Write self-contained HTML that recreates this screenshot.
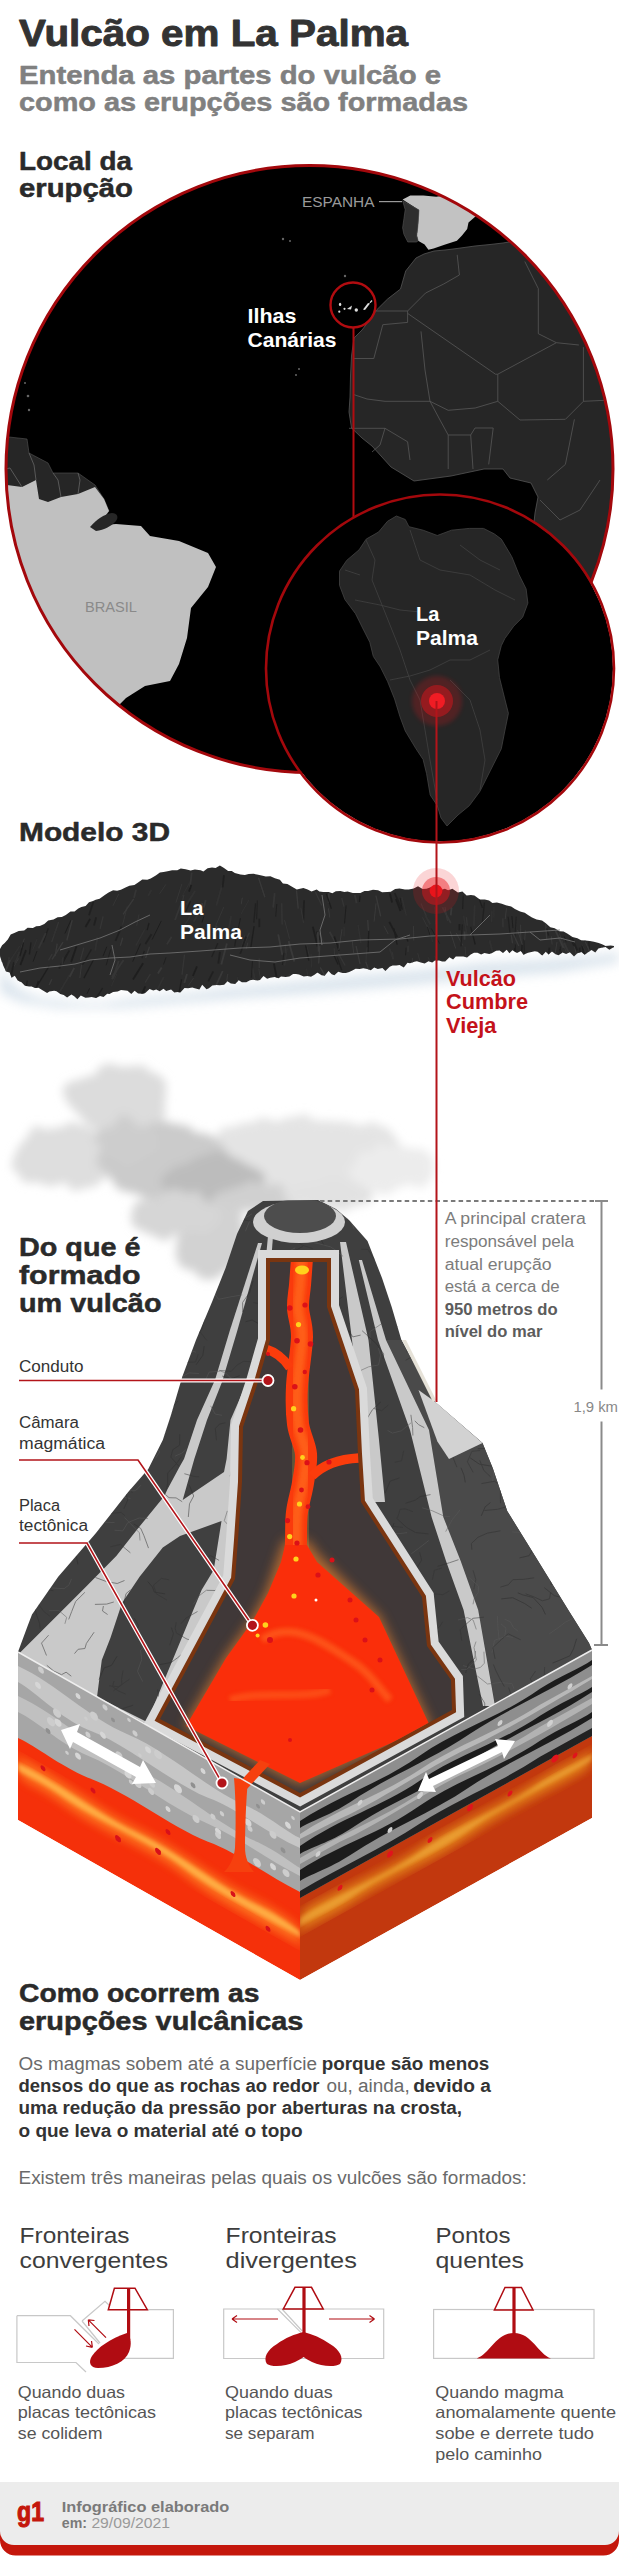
<!DOCTYPE html>
<html><head><meta charset="utf-8"><title>Vulcão em La Palma</title>
<style>
html,body{margin:0;padding:0;background:#fff;width:619px;height:2560px;overflow:hidden}
svg{display:block;position:absolute;left:0;top:0}
text{font-family:"Liberation Sans",sans-serif}
.b{font-weight:bold}
.h{stroke-width:.9;stroke-linejoin:round}
.h2{stroke-width:.5;stroke-linejoin:round}
</style></head><body>
<svg width="619" height="2560" viewBox="0 0 619 2560">
<defs>
 <clipPath id="bigc"><circle cx="309.5" cy="469" r="303.5"/></clipPath>
 <clipPath id="smc"><circle cx="440" cy="668.5" r="173"/></clipPath>
 <clipPath id="conec"><rect x="0" y="1200.5" width="619" height="100"/></clipPath>
 <filter id="blur2"><feGaussianBlur stdDeviation="2"/></filter>
 <filter id="blur6" x="-20%" y="-20%" width="140%" height="140%"><feGaussianBlur stdDeviation="6"/></filter>
 <filter id="blur8" x="-30%" y="-30%" width="160%" height="160%"><feTurbulence type="fractalNoise" baseFrequency="0.035" numOctaves="3" seed="4" result="n"/><feDisplacementMap in="SourceGraphic" in2="n" scale="22" xChannelSelector="R" yChannelSelector="G" result="d"/><feGaussianBlur in="d" stdDeviation="5"/></filter>
 <filter id="blur12" x="-30%" y="-30%" width="160%" height="160%"><feGaussianBlur stdDeviation="12"/></filter>
 <radialGradient id="glow"><stop offset="0" stop-color="#e8141b" stop-opacity=".9"/><stop offset="1" stop-color="#e8141b" stop-opacity="0"/></radialGradient>
</defs>

<!-- HEADER -->
<text x="19" y="45.5" class="b h" stroke="#333" font-size="36.5" fill="#333" textLength="389" lengthAdjust="spacingAndGlyphs">Vulcão em La Palma</text>
<text x="19" y="83.5" class="b h2" stroke="#808080" font-size="25.5" fill="#808080" textLength="422" lengthAdjust="spacingAndGlyphs">Entenda as partes do vulcão e</text>
<text x="19" y="111.4" class="b h2" stroke="#808080" font-size="25.5" fill="#808080" textLength="449" lengthAdjust="spacingAndGlyphs">como as erupções são formadas</text>

<text x="19" y="170" class="b h2" stroke="#2a2a2a" font-size="26" fill="#2a2a2a" textLength="113" lengthAdjust="spacingAndGlyphs">Local da</text>
<text x="19" y="197" class="b h2" stroke="#2a2a2a" font-size="26" fill="#2a2a2a" textLength="114" lengthAdjust="spacingAndGlyphs">erupção</text>

<!-- MAP BIG CIRCLE -->
<circle cx="309.5" cy="469" r="303.5" fill="#000"/>
<g clip-path="url(#bigc)">
 <!-- Africa -->
 <polygon fill="#262626" stroke="#555" stroke-width=".8" points="424,254 434,251 445,250 457,248.5 475,246 490,244.5 503,243 515,241 530,240 560,236 650,236 650,700 560,700 540,600 530,560 535,513 538,497 531,483 510,478 503,469 484,469 451,476 414,481 391,467 372,446 362,438 351.5,428 349,412 350,397 350.5,376 351.5,356 354,338 362,330 369.6,320 377,309.5 387.6,299 400.5,289 405.7,271 416,258"/>
 <g fill="none" stroke="#585858" stroke-width=".8">
  <polyline points="457.2,254.8 459.4,275 443.7,284 425.6,293 407.6,311"/>
  <polyline points="376,311 407.6,311 407.6,322.4 382.8,324.7 373.8,358.5 353.5,358.5"/>
  <polyline points="407.6,313.4 495.5,374.2 497.8,374.2 556.4,342.7 578.9,345"/>
  <polyline points="421,331.4 425,370 430,401.3"/>
  <polyline points="524.8,261.5 538.3,288.6 538.3,333.7 556.4,342.7"/>
  <polyline points="497.8,374.2 497.8,401.3 475.2,408 448.2,410.3 430,401.3 385,401.3 367,399"/>
  <polyline points="353.5,394.5 367,399"/>
  <polyline points="349,428.3 385,428.3 407.6,441.8 410,460"/>
  <polyline points="448.2,435 448.2,469"/>
  <polyline points="470.7,435 473,469"/>
  <polyline points="475,428 493.2,428 488.7,464.4"/>
  <polyline points="430,401.3 440,420 448.2,435 470.7,435 475,428"/>
  <polyline points="574.4,419.3 565.4,464.4 547.3,480"/>
  <polyline points="583.4,347.2 583.4,401.3 565.4,419.3 520,420 497.8,401.3"/>
  <polyline points="583.4,401.3 612,400"/>
  <polyline points="540,500 560,520 580,510 600,480"/>
  <polyline points="385,428.3 380,445 372,452"/>
 </g>
 <!-- Iberia -->
 <polygon fill="#c2c2c2" points="402.6,199.4 410.3,195.5 423.3,195.5 436.2,196.8 441.4,196 460,190 480,200 476,216 468.5,222.6 467.2,229.1 462,235.6 456.9,240.7 445.2,244.6 433.6,248.5 428.4,249.8 424.6,244.6 418.1,240.7 416.8,235.6 418,225 419,210"/>
 <polygon fill="#2e2e2e" stroke="#555" stroke-width=".6" points="402.6,200.7 419,210 418,225 416.8,235.6 418.1,240.7 416.8,242 407.8,242 403.9,234.3 402.6,227.8 403.9,218.8 405.2,209.7"/>
 <!-- South America dark north -->
 <polygon fill="#262626" stroke="#555" stroke-width=".6" points="0,436 27,439 29,453 48,463 53,473 78,473 95,485 104,499 109,511 99,524 92,526 80,520 0,520"/>
 <!-- Brazil -->
 <polygon fill="#c0c0c0" points="0,485 7,485 22,487 36,480 39,499 48,502 61,497 78,494 95,487 104,499 109,511 99,524 92,526 116,524 141,526 150,536 179,541 208,553 216,567 208,587 191,608 187,638 179,664 170,681 145,686 126,698 119,705 100,760 0,760"/>
 <path d="M90,527 C96,520 104,514 112,513 C117,513 119,517 116,521 C112,526 104,530 96,531Z" fill="#262626"/>
 <g fill="none" stroke="#666" stroke-width=".8"><polyline points="36,480 34,465 29,453"/><polyline points="61,497 58,480 53,473"/><polyline points="78,494 80,480 78,473"/><polyline points="0,470 10,468 22,487"/></g>
 <!-- small islands -->
 <g fill="#666"><circle cx="283" cy="239" r="1.2"/><circle cx="290" cy="241" r="1"/><circle cx="345" cy="276" r="1.2"/><circle cx="299" cy="369" r="1"/><circle cx="296" cy="375" r="1"/><circle cx="25" cy="383" r="1"/><circle cx="28" cy="396" r="1.3"/><circle cx="29" cy="410" r="1.2"/></g>
</g>
<circle cx="309.5" cy="469" r="303.5" fill="none" stroke="#a3080c" stroke-width="3"/>
<text x="302" y="206.8" font-size="15.5" fill="#9a9a9a" textLength="72.5" lengthAdjust="spacingAndGlyphs">ESPANHA</text>
<line x1="379" y1="201.6" x2="402" y2="201.6" stroke="#9a9a9a" stroke-width="1.2"/>
<text x="85" y="612" font-size="15.5" fill="#8a8a8a" textLength="52" lengthAdjust="spacingAndGlyphs">BRASIL</text>
<!-- Canarias -->
<circle cx="353" cy="305" r="22.5" fill="none" stroke="#b10c10" stroke-width="2.4"/>
<g fill="#ddd"><ellipse cx="340.1" cy="304.4" rx="1.2" ry="1.6"/><circle cx="339.3" cy="311.7" r="1.1"/><circle cx="344.5" cy="308.8" r="1.1"/><path d="M347,309 L352,305.5 L351,309.5Z"/><circle cx="356.3" cy="310" r="1.7"/><path d="M363,309.5 L368,303 L370,303.5 L365,310Z"/><path d="M369.5,302.5 L371.5,300 L372.5,301 L370.5,303Z"/></g>
<line x1="353.5" y1="327" x2="353.5" y2="518" stroke="#b10c10" stroke-width="2"/>
<text x="247.5" y="322.5" class="b" font-size="20.5" fill="#fff" textLength="49" lengthAdjust="spacingAndGlyphs">Ilhas</text>
<text x="247.5" y="347" class="b" font-size="20.5" fill="#fff" textLength="89" lengthAdjust="spacingAndGlyphs">Canárias</text>

<!-- SMALL CIRCLE La Palma -->
<circle cx="440" cy="668.5" r="173" fill="#000"/>
<g clip-path="url(#smc)">
 <polygon fill="#262626" stroke="#444" stroke-width=".8" points="396.4,516 405.3,519.5 408.9,526.7 423.1,530.2 437.3,535.5 451.5,530.2 469.3,528.4 483.5,528.4 494.2,533.8 501.3,539.1 511.9,556.9 519,574.6 526.1,588.9 527.9,603.1 522.6,617.3 513.7,626.2 504.8,638.6 501.3,645.7 497.7,659.9 499.5,677.7 504.8,699 508.4,713.3 504.8,731 501.3,748.8 490.6,770.1 479.9,791.4 469.3,805.7 458,815 447,826 441,818 437.3,805.7 430.2,795 426.6,773.7 423.1,759.5 416,748.8 405.3,731 400,716.8 394.6,699 387.5,681.3 380.4,667 373.3,656.4 369.8,642.2 362.6,628 355.5,613.7 344.9,599.5 339.5,585.3 339.5,571.1 346.7,560.4 359.1,549.8 366.2,539.1 378.6,532 387.5,521.3"/>
 <g fill="none" stroke="#3e3e3e" stroke-width=".9">
  <polyline points="366,540 375,560 372,580 380,600 390,625 400,650 410,680 420,700 425,730 430,760 437,800"/>
  <polyline points="410,530 420,560 440,570 470,575 495,590 515,600"/>
  <polyline points="355,600 380,605 400,610 420,612"/>
  <polyline points="390,680 410,676 430,670 450,660 470,660 490,650"/>
  <polyline points="450,680 470,700 480,730 485,760 480,790"/>
  <polyline points="460,545 480,560 500,570"/>
  <polyline points="345,570 360,575"/>
 </g>
</g>
<circle cx="440" cy="668.5" r="174" fill="none" stroke="#a3080c" stroke-width="2.6"/>
<text x="416" y="620.8" class="b" font-size="20" fill="#fff">La</text>
<text x="416" y="645" class="b" font-size="20" fill="#fff" textLength="62" lengthAdjust="spacingAndGlyphs">Palma</text>
<circle cx="437" cy="701" r="25" fill="#e8141b" opacity=".22" filter="url(#blur2)"/>
<circle cx="437" cy="701" r="16" fill="#e8141b" opacity=".45"/>
<circle cx="437" cy="701" r="8" fill="#f01c24"/>

<!-- MODELO 3D -->
<text x="19" y="841" class="b h2" stroke="#2a2a2a" font-size="26" fill="#2a2a2a" textLength="151" lengthAdjust="spacingAndGlyphs">Modelo 3D</text>
<!-- shadow -->
<polygon fill="#d3dfe9" filter="url(#blur6)" opacity=".85" points="0,955 5,975 20,990 40,998 75,1002 100,1003 135,998 165,995 190,993 225,988 260,985 310,980 360,975 420,970 480,963 540,960 600,955 619,952 619,962 560,972 480,978 420,984 350,990 300,994 240,998 180,1003 120,1008 60,1008 20,1002 0,992"/>
<!-- island -->
<polygon fill="#2b2b2b" points="0.0,949.0 2.1,945.2 4.7,943.0 7.8,939.4 10.7,934.6 14.9,932.8 18.7,931.1 24.2,930.5 27.6,927.8 32.9,927.9 36.2,926.2 39.8,926.0 44.3,924.1 48.2,920.4 53.5,919.4 57.6,917.2 61.8,916.9 65.8,914.9 70.5,911.6 74.5,911.6 78.3,908.4 81.4,906.9 85.6,905.9 89.0,902.2 93.0,901.1 95.7,899.7 99.6,898.7 104.8,895.1 108.6,892.5 113.1,890.3 117.1,890.8 120.9,889.7 125.5,887.6 129.4,885.8 134.4,885.1 138.1,882.4 142.3,879.6 147.3,879.7 150.7,878.5 155.8,875.4 159.9,872.5 163.6,872.1 168.8,870.9 172.1,870.3 177.3,870.3 180.8,868.5 185.6,869.2 190.6,870.6 194.9,869.4 200.6,870.2 203.4,871.4 207.6,868.2 212.0,867.6 215.6,868.0 219.9,865.4 224.0,867.9 228.1,871.1 231.8,871.1 234.8,873.0 240.4,874.4 244.9,874.9 248.7,874.1 253.5,873.8 257.0,874.4 261.6,875.5 265.8,876.6 270.4,876.2 274.9,878.3 279.9,879.8 282.9,883.5 287.4,884.1 291.2,886.2 296.8,889.5 300.0,888.8 303.4,888.1 307.6,889.4 311.5,891.5 316.7,889.4 319.4,891.6 323.2,892.1 328.8,892.1 332.3,893.2 335.8,891.2 340.4,890.9 344.4,892.1 347.6,891.5 352.8,893.0 356.5,893.1 360.4,893.0 364.5,890.9 368.1,891.0 373.0,889.7 378.1,890.2 382.1,892.2 387.4,891.9 390.8,891.7 395.1,889.1 399.5,888.5 405.0,889.4 408.8,889.6 413.7,888.6 418.0,886.3 422.6,889.1 426.5,888.8 431.4,887.1 435.9,887.8 439.6,890.2 444.9,888.8 448.1,890.3 452.4,888.8 457.9,892.6 462.4,891.6 466.6,895.6 470.9,894.9 474.4,895.5 479.9,899.6 484.8,899.5 489.1,900.5 492.4,903.1 496.9,902.6 501.8,903.8 505.9,905.2 511.2,906.6 514.9,909.0 520.1,911.5 524.7,912.7 528.4,915.3 532.0,917.6 536.6,919.6 542.0,920.4 545.8,923.2 550.3,927.2 554.7,928.2 559.5,931.2 563.6,931.5 567.6,933.7 572.5,937.1 577.4,938.2 581.1,940.3 585.4,940.4 589.9,941.0 593.9,941.8 598.7,942.9 602.6,944.4 605.6,945.9 610.7,945.4 614.0,946.0 614.0,947.0 609.3,949.8 605.7,947.0 601.3,947.8 598.4,948.4 595.3,952.6 591.5,949.9 587.0,953.1 584.8,954.8 581.3,952.0 577.0,953.5 574.0,956.5 569.8,952.2 566.1,954.1 562.5,952.4 558.5,955.2 555.6,954.3 551.9,951.5 548.6,954.6 545.8,951.7 542.3,955.5 537.6,951.7 534.8,951.2 530.3,952.2 528.0,952.8 523.4,954.7 520.9,951.0 517.0,953.0 512.4,950.3 509.4,953.2 506.7,949.8 503.0,953.0 499.6,950.5 496.1,950.8 491.7,953.2 489.2,954.0 484.4,952.9 481.1,954.6 477.5,952.8 474.0,952.8 470.7,954.5 467.1,957.4 463.3,956.6 459.4,956.4 455.8,956.4 453.1,959.5 449.4,957.2 445.2,961.6 442.1,961.6 439.1,960.4 435.0,960.4 432.3,962.5 428.5,961.2 424.7,963.6 420.8,962.5 416.9,961.2 414.4,961.8 410.0,963.2 407.5,962.8 403.8,967.4 399.6,964.9 396.3,965.6 392.6,965.6 389.7,966.8 385.4,971.1 382.4,968.0 377.8,969.0 374.2,967.6 370.8,970.3 367.2,969.0 363.2,968.2 359.8,968.9 355.6,968.8 352.4,970.4 349.2,972.0 345.9,973.1 342.6,973.1 338.2,971.8 334.4,975.2 331.7,974.2 328.5,971.0 324.7,975.8 321.5,975.3 317.5,972.6 314.5,974.8 311.0,976.7 307.6,975.9 303.7,976.6 299.0,974.4 296.0,974.0 293.1,974.0 289.2,976.6 285.7,977.1 281.0,976.5 278.6,978.2 274.7,976.9 270.3,977.8 267.1,978.8 263.5,975.9 259.9,979.9 257.6,980.5 253.1,979.8 250.0,980.3 246.3,982.3 241.9,982.2 238.7,980.2 235.2,983.9 230.8,983.4 227.4,981.2 224.2,984.8 219.7,985.3 216.4,985.1 212.3,985.4 208.9,988.2 206.5,989.2 202.2,984.8 199.4,989.6 194.7,988.3 192.3,987.6 188.1,988.2 184.5,988.1 180.4,992.5 177.5,992.0 174.3,992.6 171.1,989.4 166.2,991.0 163.5,988.7 159.7,991.2 156.2,989.6 153.3,990.5 149.6,988.9 145.0,993.3 142.3,993.7 138.1,993.6 134.6,990.8 131.3,994.1 127.5,990.8 123.3,990.3 121.0,990.0 117.7,991.6 113.1,991.9 109.5,993.9 107.2,993.8 103.5,997.0 100.1,996.0 95.9,997.9 91.6,997.0 88.6,997.4 85.4,997.7 80.8,995.6 77.4,999.2 74.2,996.2 71.4,994.6 67.1,997.5 63.7,995.1 60.3,994.0 56.5,991.3 54.1,990.8 49.4,991.6 47.1,993.0 42.1,989.9 38.5,987.8 34.9,987.9 31.6,986.6 29.1,986.6 24.9,985.8 21.5,982.3 17.7,980.4 14.8,975.8 11.6,977.7 9.6,972.4 6.0,971.4 3.2,965.4 2.3,962.5 1.8,961.9 0.0,956.0"/>
<clipPath id="isl"><polygon points="0.0,949.0 2.1,945.2 4.7,943.0 7.8,939.4 10.7,934.6 14.9,932.8 18.7,931.1 24.2,930.5 27.6,927.8 32.9,927.9 36.2,926.2 39.8,926.0 44.3,924.1 48.2,920.4 53.5,919.4 57.6,917.2 61.8,916.9 65.8,914.9 70.5,911.6 74.5,911.6 78.3,908.4 81.4,906.9 85.6,905.9 89.0,902.2 93.0,901.1 95.7,899.7 99.6,898.7 104.8,895.1 108.6,892.5 113.1,890.3 117.1,890.8 120.9,889.7 125.5,887.6 129.4,885.8 134.4,885.1 138.1,882.4 142.3,879.6 147.3,879.7 150.7,878.5 155.8,875.4 159.9,872.5 163.6,872.1 168.8,870.9 172.1,870.3 177.3,870.3 180.8,868.5 185.6,869.2 190.6,870.6 194.9,869.4 200.6,870.2 203.4,871.4 207.6,868.2 212.0,867.6 215.6,868.0 219.9,865.4 224.0,867.9 228.1,871.1 231.8,871.1 234.8,873.0 240.4,874.4 244.9,874.9 248.7,874.1 253.5,873.8 257.0,874.4 261.6,875.5 265.8,876.6 270.4,876.2 274.9,878.3 279.9,879.8 282.9,883.5 287.4,884.1 291.2,886.2 296.8,889.5 300.0,888.8 303.4,888.1 307.6,889.4 311.5,891.5 316.7,889.4 319.4,891.6 323.2,892.1 328.8,892.1 332.3,893.2 335.8,891.2 340.4,890.9 344.4,892.1 347.6,891.5 352.8,893.0 356.5,893.1 360.4,893.0 364.5,890.9 368.1,891.0 373.0,889.7 378.1,890.2 382.1,892.2 387.4,891.9 390.8,891.7 395.1,889.1 399.5,888.5 405.0,889.4 408.8,889.6 413.7,888.6 418.0,886.3 422.6,889.1 426.5,888.8 431.4,887.1 435.9,887.8 439.6,890.2 444.9,888.8 448.1,890.3 452.4,888.8 457.9,892.6 462.4,891.6 466.6,895.6 470.9,894.9 474.4,895.5 479.9,899.6 484.8,899.5 489.1,900.5 492.4,903.1 496.9,902.6 501.8,903.8 505.9,905.2 511.2,906.6 514.9,909.0 520.1,911.5 524.7,912.7 528.4,915.3 532.0,917.6 536.6,919.6 542.0,920.4 545.8,923.2 550.3,927.2 554.7,928.2 559.5,931.2 563.6,931.5 567.6,933.7 572.5,937.1 577.4,938.2 581.1,940.3 585.4,940.4 589.9,941.0 593.9,941.8 598.7,942.9 602.6,944.4 605.6,945.9 610.7,945.4 614.0,946.0 614.0,947.0 609.3,949.8 605.7,947.0 601.3,947.8 598.4,948.4 595.3,952.6 591.5,949.9 587.0,953.1 584.8,954.8 581.3,952.0 577.0,953.5 574.0,956.5 569.8,952.2 566.1,954.1 562.5,952.4 558.5,955.2 555.6,954.3 551.9,951.5 548.6,954.6 545.8,951.7 542.3,955.5 537.6,951.7 534.8,951.2 530.3,952.2 528.0,952.8 523.4,954.7 520.9,951.0 517.0,953.0 512.4,950.3 509.4,953.2 506.7,949.8 503.0,953.0 499.6,950.5 496.1,950.8 491.7,953.2 489.2,954.0 484.4,952.9 481.1,954.6 477.5,952.8 474.0,952.8 470.7,954.5 467.1,957.4 463.3,956.6 459.4,956.4 455.8,956.4 453.1,959.5 449.4,957.2 445.2,961.6 442.1,961.6 439.1,960.4 435.0,960.4 432.3,962.5 428.5,961.2 424.7,963.6 420.8,962.5 416.9,961.2 414.4,961.8 410.0,963.2 407.5,962.8 403.8,967.4 399.6,964.9 396.3,965.6 392.6,965.6 389.7,966.8 385.4,971.1 382.4,968.0 377.8,969.0 374.2,967.6 370.8,970.3 367.2,969.0 363.2,968.2 359.8,968.9 355.6,968.8 352.4,970.4 349.2,972.0 345.9,973.1 342.6,973.1 338.2,971.8 334.4,975.2 331.7,974.2 328.5,971.0 324.7,975.8 321.5,975.3 317.5,972.6 314.5,974.8 311.0,976.7 307.6,975.9 303.7,976.6 299.0,974.4 296.0,974.0 293.1,974.0 289.2,976.6 285.7,977.1 281.0,976.5 278.6,978.2 274.7,976.9 270.3,977.8 267.1,978.8 263.5,975.9 259.9,979.9 257.6,980.5 253.1,979.8 250.0,980.3 246.3,982.3 241.9,982.2 238.7,980.2 235.2,983.9 230.8,983.4 227.4,981.2 224.2,984.8 219.7,985.3 216.4,985.1 212.3,985.4 208.9,988.2 206.5,989.2 202.2,984.8 199.4,989.6 194.7,988.3 192.3,987.6 188.1,988.2 184.5,988.1 180.4,992.5 177.5,992.0 174.3,992.6 171.1,989.4 166.2,991.0 163.5,988.7 159.7,991.2 156.2,989.6 153.3,990.5 149.6,988.9 145.0,993.3 142.3,993.7 138.1,993.6 134.6,990.8 131.3,994.1 127.5,990.8 123.3,990.3 121.0,990.0 117.7,991.6 113.1,991.9 109.5,993.9 107.2,993.8 103.5,997.0 100.1,996.0 95.9,997.9 91.6,997.0 88.6,997.4 85.4,997.7 80.8,995.6 77.4,999.2 74.2,996.2 71.4,994.6 67.1,997.5 63.7,995.1 60.3,994.0 56.5,991.3 54.1,990.8 49.4,991.6 47.1,993.0 42.1,989.9 38.5,987.8 34.9,987.9 31.6,986.6 29.1,986.6 24.9,985.8 21.5,982.3 17.7,980.4 14.8,975.8 11.6,977.7 9.6,972.4 6.0,971.4 3.2,965.4 2.3,962.5 1.8,961.9 0.0,956.0"/></clipPath>
<g clip-path="url(#isl)" opacity=".6"><line x1="278.2" y1="934.4" x2="282.3" y2="954.8" stroke="#444" stroke-width="1.8"/><line x1="116.8" y1="973.8" x2="111.4" y2="986.3" stroke="#363636" stroke-width="1"/><line x1="274.7" y1="893.2" x2="273.2" y2="907.7" stroke="#3d3d3d" stroke-width="1.8"/><line x1="604.0" y1="947.8" x2="605.6" y2="964.2" stroke="#363636" stroke-width="1.8"/><line x1="9.2" y1="957.1" x2="7.9" y2="963.9" stroke="#363636" stroke-width="1.8"/><line x1="18.5" y1="958.5" x2="11.9" y2="969.8" stroke="#444" stroke-width="1"/><line x1="393.8" y1="928.4" x2="397.1" y2="944.7" stroke="#161616" stroke-width="1.3"/><line x1="613.6" y1="947.0" x2="614.1" y2="966.5" stroke="#161616" stroke-width="1"/><line x1="315.4" y1="892.0" x2="321.9" y2="905.5" stroke="#3d3d3d" stroke-width="1.3"/><line x1="237.7" y1="976.9" x2="236.0" y2="996.4" stroke="#363636" stroke-width="1"/><line x1="289.0" y1="974.0" x2="294.7" y2="985.0" stroke="#363636" stroke-width="1.8"/><line x1="165.9" y1="884.4" x2="159.6" y2="893.8" stroke="#3d3d3d" stroke-width="1"/><line x1="151.5" y1="889.8" x2="148.2" y2="895.9" stroke="#363636" stroke-width="1.8"/><line x1="344.0" y1="927.2" x2="344.1" y2="936.3" stroke="#363636" stroke-width="1.3"/><line x1="395.9" y1="899.0" x2="400.5" y2="910.8" stroke="#161616" stroke-width="1.8"/><line x1="187.0" y1="974.1" x2="184.3" y2="983.1" stroke="#444" stroke-width="1.8"/><line x1="354.8" y1="895.0" x2="356.6" y2="903.2" stroke="#3d3d3d" stroke-width="1.8"/><line x1="202.3" y1="903.0" x2="201.3" y2="910.1" stroke="#444" stroke-width="1.8"/><line x1="149.5" y1="946.8" x2="145.6" y2="958.1" stroke="#444" stroke-width="1.3"/><line x1="511.9" y1="916.0" x2="512.9" y2="928.1" stroke="#161616" stroke-width="1"/><line x1="502.9" y1="918.3" x2="503.0" y2="927.3" stroke="#444" stroke-width="1"/><line x1="422.5" y1="917.3" x2="428.7" y2="929.6" stroke="#3d3d3d" stroke-width="1"/><line x1="67.1" y1="954.3" x2="62.5" y2="963.2" stroke="#1a1a1a" stroke-width="1.3"/><line x1="258.8" y1="968.8" x2="261.0" y2="982.5" stroke="#3d3d3d" stroke-width="1"/><line x1="140.5" y1="943.6" x2="132.7" y2="961.6" stroke="#161616" stroke-width="1"/><line x1="564.2" y1="936.3" x2="566.2" y2="942.2" stroke="#1a1a1a" stroke-width="1"/><line x1="37.2" y1="938.9" x2="32.7" y2="949.9" stroke="#363636" stroke-width="1"/><line x1="222.7" y1="971.0" x2="213.7" y2="990.7" stroke="#444" stroke-width="1.8"/><line x1="582.3" y1="945.6" x2="586.3" y2="966.0" stroke="#161616" stroke-width="1.8"/><line x1="191.8" y1="872.6" x2="189.8" y2="888.0" stroke="#3d3d3d" stroke-width="1.8"/><line x1="191.3" y1="884.9" x2="189.0" y2="891.6" stroke="#161616" stroke-width="1.8"/><line x1="27.3" y1="980.7" x2="24.6" y2="998.3" stroke="#161616" stroke-width="1.3"/><line x1="52.2" y1="954.1" x2="48.5" y2="960.3" stroke="#3d3d3d" stroke-width="1.3"/><line x1="352.3" y1="941.2" x2="353.7" y2="953.2" stroke="#444" stroke-width="1"/><line x1="49.3" y1="965.9" x2="37.9" y2="984.6" stroke="#161616" stroke-width="1.3"/><line x1="574.6" y1="946.5" x2="577.2" y2="959.6" stroke="#444" stroke-width="1"/><line x1="319.0" y1="932.9" x2="323.9" y2="942.7" stroke="#3d3d3d" stroke-width="1"/><line x1="588.8" y1="941.6" x2="590.0" y2="960.0" stroke="#1a1a1a" stroke-width="1.3"/><line x1="551.3" y1="936.3" x2="552.1" y2="944.6" stroke="#444" stroke-width="1"/><line x1="463.6" y1="915.6" x2="467.2" y2="936.2" stroke="#363636" stroke-width="1.3"/><line x1="248.9" y1="899.9" x2="241.1" y2="914.0" stroke="#363636" stroke-width="1"/><line x1="236.4" y1="935.4" x2="234.7" y2="946.3" stroke="#1a1a1a" stroke-width="1.3"/><line x1="514.8" y1="947.8" x2="512.4" y2="965.0" stroke="#161616" stroke-width="1"/><line x1="69.4" y1="950.4" x2="59.0" y2="968.5" stroke="#1a1a1a" stroke-width="1.8"/><line x1="319.8" y1="946.1" x2="318.7" y2="963.5" stroke="#444" stroke-width="1.3"/><line x1="197.0" y1="966.4" x2="192.9" y2="976.0" stroke="#161616" stroke-width="1.8"/><line x1="217.8" y1="943.2" x2="211.7" y2="956.9" stroke="#1a1a1a" stroke-width="1.3"/><line x1="116.8" y1="970.2" x2="111.9" y2="979.3" stroke="#3d3d3d" stroke-width="1.8"/><line x1="70.9" y1="920.2" x2="64.9" y2="933.5" stroke="#161616" stroke-width="1"/><line x1="421.0" y1="903.5" x2="426.2" y2="916.0" stroke="#3d3d3d" stroke-width="1.3"/><line x1="328.9" y1="893.2" x2="328.7" y2="902.9" stroke="#444" stroke-width="1.8"/><line x1="582.3" y1="944.6" x2="591.1" y2="964.7" stroke="#363636" stroke-width="1"/><line x1="252.4" y1="968.2" x2="255.0" y2="980.1" stroke="#363636" stroke-width="1.8"/><line x1="545.7" y1="924.3" x2="546.7" y2="939.1" stroke="#444" stroke-width="1.3"/><line x1="285.2" y1="943.9" x2="285.4" y2="953.1" stroke="#3d3d3d" stroke-width="1"/><line x1="149.0" y1="923.0" x2="147.2" y2="930.2" stroke="#161616" stroke-width="1.3"/><line x1="559.6" y1="949.1" x2="564.8" y2="959.4" stroke="#1a1a1a" stroke-width="1.3"/><line x1="338.4" y1="953.4" x2="345.1" y2="965.5" stroke="#3d3d3d" stroke-width="1.3"/><line x1="491.9" y1="910.8" x2="491.6" y2="922.2" stroke="#363636" stroke-width="1.3"/><line x1="91.4" y1="949.4" x2="82.6" y2="964.6" stroke="#1a1a1a" stroke-width="1.3"/><line x1="356.1" y1="946.1" x2="360.0" y2="963.8" stroke="#444" stroke-width="1.3"/><line x1="511.2" y1="934.8" x2="512.6" y2="943.3" stroke="#444" stroke-width="1.3"/><line x1="191.7" y1="913.9" x2="181.3" y2="930.4" stroke="#363636" stroke-width="1.3"/><line x1="523.2" y1="953.0" x2="525.0" y2="967.3" stroke="#363636" stroke-width="1.3"/><line x1="329.6" y1="931.8" x2="337.2" y2="945.6" stroke="#3d3d3d" stroke-width="1.8"/><line x1="564.2" y1="942.9" x2="573.4" y2="962.7" stroke="#3d3d3d" stroke-width="1.8"/><line x1="102.6" y1="988.2" x2="95.4" y2="999.4" stroke="#1a1a1a" stroke-width="1.3"/><line x1="151.5" y1="934.2" x2="145.4" y2="943.9" stroke="#1a1a1a" stroke-width="1.8"/><line x1="195.1" y1="891.1" x2="186.5" y2="904.5" stroke="#363636" stroke-width="1.8"/><line x1="479.3" y1="899.3" x2="482.5" y2="907.8" stroke="#161616" stroke-width="1.3"/><line x1="445.0" y1="907.1" x2="447.4" y2="920.8" stroke="#444" stroke-width="1"/><line x1="523.9" y1="939.4" x2="524.5" y2="956.9" stroke="#1a1a1a" stroke-width="1"/><line x1="231.1" y1="916.1" x2="228.6" y2="930.4" stroke="#363636" stroke-width="1.8"/><line x1="328.4" y1="908.3" x2="329.8" y2="917.6" stroke="#444" stroke-width="1"/><line x1="143.1" y1="963.3" x2="133.0" y2="979.4" stroke="#161616" stroke-width="1.8"/><line x1="193.7" y1="977.9" x2="188.3" y2="985.7" stroke="#3d3d3d" stroke-width="1"/><line x1="546.7" y1="928.4" x2="548.6" y2="935.5" stroke="#1a1a1a" stroke-width="1.3"/><line x1="334.1" y1="948.3" x2="334.9" y2="957.5" stroke="#3d3d3d" stroke-width="1"/><line x1="123.6" y1="960.1" x2="112.0" y2="977.1" stroke="#3d3d3d" stroke-width="1.8"/><line x1="311.0" y1="953.6" x2="311.6" y2="967.7" stroke="#363636" stroke-width="1"/><line x1="296.5" y1="890.5" x2="298.2" y2="908.6" stroke="#444" stroke-width="1.3"/><line x1="90.1" y1="918.9" x2="85.5" y2="927.0" stroke="#161616" stroke-width="1.8"/><line x1="58.6" y1="922.0" x2="51.7" y2="942.1" stroke="#3d3d3d" stroke-width="1.3"/><line x1="240.4" y1="918.2" x2="238.1" y2="929.6" stroke="#161616" stroke-width="1"/><line x1="389.9" y1="893.5" x2="392.1" y2="902.5" stroke="#161616" stroke-width="1.8"/><line x1="227.7" y1="974.0" x2="225.5" y2="989.5" stroke="#3d3d3d" stroke-width="1.3"/><line x1="549.3" y1="947.7" x2="548.0" y2="965.0" stroke="#1a1a1a" stroke-width="1.8"/><line x1="368.8" y1="930.7" x2="367.9" y2="952.4" stroke="#161616" stroke-width="1.3"/><line x1="560.4" y1="946.6" x2="559.6" y2="965.1" stroke="#1a1a1a" stroke-width="1"/><line x1="551.4" y1="949.8" x2="551.2" y2="966.9" stroke="#363636" stroke-width="1.3"/><line x1="127.2" y1="906.5" x2="122.6" y2="924.7" stroke="#3d3d3d" stroke-width="1"/><line x1="546.1" y1="953.2" x2="555.8" y2="971.3" stroke="#161616" stroke-width="1.8"/><line x1="183.8" y1="895.0" x2="181.5" y2="907.3" stroke="#3d3d3d" stroke-width="1.3"/><line x1="316.5" y1="931.5" x2="320.5" y2="940.0" stroke="#1a1a1a" stroke-width="1.8"/><line x1="14.0" y1="962.3" x2="10.1" y2="979.7" stroke="#1a1a1a" stroke-width="1.8"/><line x1="31.0" y1="942.4" x2="29.4" y2="954.3" stroke="#161616" stroke-width="1.3"/><line x1="557.0" y1="942.0" x2="554.8" y2="955.9" stroke="#444" stroke-width="1"/><line x1="392.4" y1="952.2" x2="393.1" y2="959.4" stroke="#3d3d3d" stroke-width="1.3"/><line x1="572.0" y1="938.2" x2="577.4" y2="950.7" stroke="#1a1a1a" stroke-width="1.8"/><line x1="375.9" y1="895.7" x2="380.7" y2="916.3" stroke="#444" stroke-width="1.3"/><line x1="367.7" y1="920.0" x2="368.4" y2="930.6" stroke="#444" stroke-width="1.3"/><line x1="408.1" y1="945.7" x2="408.0" y2="952.2" stroke="#444" stroke-width="1"/><line x1="389.3" y1="921.8" x2="397.2" y2="936.8" stroke="#161616" stroke-width="1.8"/><line x1="244.6" y1="935.3" x2="240.2" y2="952.3" stroke="#363636" stroke-width="1.3"/><line x1="442.3" y1="907.2" x2="450.8" y2="923.1" stroke="#3d3d3d" stroke-width="1.8"/><line x1="559.3" y1="933.3" x2="566.7" y2="953.4" stroke="#3d3d3d" stroke-width="1"/><line x1="383.9" y1="925.8" x2="388.2" y2="934.0" stroke="#444" stroke-width="1"/><line x1="76.5" y1="946.3" x2="71.1" y2="962.1" stroke="#161616" stroke-width="1.8"/><line x1="358.1" y1="924.8" x2="360.9" y2="943.0" stroke="#363636" stroke-width="1.3"/><line x1="451.6" y1="907.6" x2="450.8" y2="915.3" stroke="#444" stroke-width="1.8"/><line x1="520.6" y1="924.7" x2="520.9" y2="940.5" stroke="#444" stroke-width="1"/><line x1="389.4" y1="948.2" x2="392.5" y2="956.7" stroke="#363636" stroke-width="1.8"/><line x1="24.3" y1="938.6" x2="21.1" y2="948.4" stroke="#444" stroke-width="1"/><line x1="63.0" y1="957.4" x2="62.1" y2="964.5" stroke="#363636" stroke-width="1.8"/><line x1="144.4" y1="990.0" x2="140.7" y2="1003.3" stroke="#161616" stroke-width="1.3"/><line x1="304.1" y1="900.3" x2="303.3" y2="920.2" stroke="#1a1a1a" stroke-width="1.8"/><line x1="515.4" y1="944.4" x2="515.4" y2="957.5" stroke="#1a1a1a" stroke-width="1"/><line x1="226.9" y1="943.4" x2="221.3" y2="964.5" stroke="#444" stroke-width="1.8"/><line x1="508.1" y1="916.8" x2="510.0" y2="933.2" stroke="#1a1a1a" stroke-width="1.3"/><line x1="48.3" y1="928.2" x2="43.3" y2="942.4" stroke="#1a1a1a" stroke-width="1.3"/><line x1="506.5" y1="908.1" x2="505.2" y2="919.0" stroke="#444" stroke-width="1"/><line x1="427.5" y1="924.7" x2="432.8" y2="942.1" stroke="#363636" stroke-width="1"/><line x1="220.0" y1="951.9" x2="218.3" y2="963.7" stroke="#1a1a1a" stroke-width="1.8"/><line x1="365.8" y1="961.9" x2="371.3" y2="978.0" stroke="#444" stroke-width="1.3"/><line x1="281.8" y1="903.2" x2="282.1" y2="924.6" stroke="#444" stroke-width="1"/><line x1="51.8" y1="979.3" x2="49.1" y2="985.0" stroke="#444" stroke-width="1.3"/><line x1="489.6" y1="940.6" x2="492.6" y2="952.1" stroke="#363636" stroke-width="1.8"/><line x1="346.1" y1="905.4" x2="344.5" y2="923.5" stroke="#161616" stroke-width="1"/><line x1="136.1" y1="889.6" x2="134.0" y2="897.9" stroke="#3d3d3d" stroke-width="1.8"/><line x1="517.6" y1="930.1" x2="522.3" y2="944.7" stroke="#444" stroke-width="1"/><line x1="205.7" y1="900.1" x2="203.8" y2="907.5" stroke="#3d3d3d" stroke-width="1.8"/><line x1="401.9" y1="897.2" x2="406.3" y2="915.7" stroke="#363636" stroke-width="1.3"/><line x1="470.7" y1="926.8" x2="475.2" y2="944.5" stroke="#161616" stroke-width="1.3"/><line x1="413.5" y1="926.1" x2="413.8" y2="940.6" stroke="#444" stroke-width="1"/><line x1="252.5" y1="961.2" x2="251.3" y2="977.8" stroke="#1a1a1a" stroke-width="1"/><line x1="546.5" y1="952.2" x2="549.1" y2="968.3" stroke="#3d3d3d" stroke-width="1"/><line x1="259.3" y1="918.7" x2="259.3" y2="927.1" stroke="#1a1a1a" stroke-width="1.8"/><line x1="103.1" y1="916.4" x2="100.1" y2="928.8" stroke="#3d3d3d" stroke-width="1.3"/><line x1="189.7" y1="882.4" x2="181.9" y2="896.8" stroke="#363636" stroke-width="1"/><line x1="463.2" y1="895.4" x2="462.7" y2="909.1" stroke="#161616" stroke-width="1"/><line x1="121.5" y1="926.6" x2="115.5" y2="940.8" stroke="#1a1a1a" stroke-width="1.8"/><line x1="312.8" y1="926.8" x2="317.7" y2="946.5" stroke="#161616" stroke-width="1.8"/><line x1="337.2" y1="957.4" x2="341.7" y2="970.3" stroke="#1a1a1a" stroke-width="1.3"/><line x1="406.1" y1="947.8" x2="405.5" y2="955.3" stroke="#1a1a1a" stroke-width="1"/><line x1="133.7" y1="898.8" x2="123.1" y2="914.3" stroke="#444" stroke-width="1.3"/><line x1="484.4" y1="902.4" x2="482.4" y2="923.1" stroke="#1a1a1a" stroke-width="1.3"/><line x1="276.8" y1="904.0" x2="275.7" y2="916.7" stroke="#1a1a1a" stroke-width="1"/><line x1="474.7" y1="905.4" x2="473.9" y2="925.9" stroke="#363636" stroke-width="1.8"/><line x1="456.1" y1="932.8" x2="462.8" y2="945.4" stroke="#444" stroke-width="1"/><line x1="0.8" y1="955.6" x2="-8.8" y2="972.6" stroke="#3d3d3d" stroke-width="1.3"/><line x1="166.0" y1="957.4" x2="163.5" y2="964.5" stroke="#1a1a1a" stroke-width="1"/><line x1="587.6" y1="945.7" x2="593.7" y2="964.5" stroke="#363636" stroke-width="1.3"/><line x1="118.7" y1="960.9" x2="113.0" y2="978.5" stroke="#3d3d3d" stroke-width="1.8"/><line x1="254.1" y1="926.2" x2="250.9" y2="947.1" stroke="#161616" stroke-width="1.3"/><line x1="249.4" y1="932.6" x2="240.1" y2="952.5" stroke="#3d3d3d" stroke-width="1.3"/><line x1="45.7" y1="933.2" x2="38.6" y2="948.3" stroke="#3d3d3d" stroke-width="1.8"/><line x1="273.9" y1="963.5" x2="277.2" y2="980.5" stroke="#161616" stroke-width="1.8"/><line x1="69.7" y1="974.9" x2="59.7" y2="991.9" stroke="#363636" stroke-width="1.8"/><line x1="93.6" y1="959.5" x2="83.9" y2="978.1" stroke="#161616" stroke-width="1.3"/><line x1="341.7" y1="898.0" x2="344.0" y2="906.7" stroke="#3d3d3d" stroke-width="1.3"/><line x1="190.5" y1="901.2" x2="184.9" y2="913.5" stroke="#1a1a1a" stroke-width="1.3"/><line x1="56.7" y1="928.7" x2="53.5" y2="935.5" stroke="#363636" stroke-width="1"/><line x1="118.8" y1="893.9" x2="112.9" y2="905.9" stroke="#3d3d3d" stroke-width="1"/><line x1="19.9" y1="981.0" x2="13.8" y2="992.4" stroke="#161616" stroke-width="1.3"/><line x1="570.0" y1="937.2" x2="573.8" y2="945.7" stroke="#1a1a1a" stroke-width="1.3"/><line x1="203.8" y1="916.5" x2="202.0" y2="922.5" stroke="#161616" stroke-width="1"/><line x1="406.0" y1="935.5" x2="407.9" y2="941.5" stroke="#161616" stroke-width="1.3"/><line x1="400.2" y1="897.9" x2="402.2" y2="909.8" stroke="#161616" stroke-width="1"/><line x1="376.0" y1="903.4" x2="374.1" y2="921.6" stroke="#444" stroke-width="1"/><line x1="216.8" y1="925.8" x2="213.1" y2="933.2" stroke="#444" stroke-width="1.8"/><line x1="434.7" y1="956.0" x2="442.0" y2="969.2" stroke="#363636" stroke-width="1"/><line x1="83.8" y1="947.6" x2="80.5" y2="959.8" stroke="#3d3d3d" stroke-width="1.3"/><line x1="163.7" y1="977.0" x2="157.7" y2="988.8" stroke="#363636" stroke-width="1.8"/><line x1="334.2" y1="936.5" x2="339.2" y2="950.6" stroke="#161616" stroke-width="1.8"/><line x1="89.6" y1="988.3" x2="87.0" y2="993.8" stroke="#161616" stroke-width="1"/><line x1="466.4" y1="917.1" x2="467.3" y2="925.7" stroke="#3d3d3d" stroke-width="1.3"/><line x1="19.7" y1="946.0" x2="7.8" y2="964.3" stroke="#363636" stroke-width="1.3"/><line x1="465.0" y1="946.6" x2="466.9" y2="967.0" stroke="#3d3d3d" stroke-width="1"/><line x1="122.7" y1="937.7" x2="120.3" y2="945.7" stroke="#444" stroke-width="1.3"/><line x1="106.8" y1="946.7" x2="103.0" y2="956.2" stroke="#161616" stroke-width="1"/><line x1="394.6" y1="893.0" x2="401.5" y2="908.3" stroke="#1a1a1a" stroke-width="1.8"/><line x1="63.0" y1="942.1" x2="52.1" y2="959.3" stroke="#444" stroke-width="1.3"/><line x1="462.3" y1="924.4" x2="461.0" y2="946.3" stroke="#1a1a1a" stroke-width="1.3"/><line x1="72.2" y1="920.1" x2="66.8" y2="940.5" stroke="#444" stroke-width="1.3"/><line x1="258.5" y1="877.7" x2="264.9" y2="897.2" stroke="#444" stroke-width="1.3"/><line x1="450.2" y1="931.3" x2="455.7" y2="948.5" stroke="#444" stroke-width="1"/><line x1="150.3" y1="974.1" x2="145.2" y2="982.5" stroke="#3d3d3d" stroke-width="1.3"/><line x1="427.4" y1="927.0" x2="430.4" y2="936.4" stroke="#1a1a1a" stroke-width="1"/><line x1="541.0" y1="954.0" x2="539.5" y2="971.6" stroke="#161616" stroke-width="1.8"/><line x1="259.2" y1="958.5" x2="259.2" y2="968.1" stroke="#444" stroke-width="1"/><line x1="555.6" y1="930.9" x2="563.5" y2="947.8" stroke="#444" stroke-width="1.8"/><line x1="584.8" y1="939.7" x2="587.9" y2="949.1" stroke="#161616" stroke-width="1"/><line x1="38.5" y1="981.1" x2="33.0" y2="999.3" stroke="#161616" stroke-width="1.8"/><line x1="360.1" y1="895.6" x2="359.4" y2="902.0" stroke="#161616" stroke-width="1.3"/><line x1="306.5" y1="968.8" x2="310.7" y2="990.1" stroke="#363636" stroke-width="1"/><line x1="181.6" y1="979.3" x2="177.8" y2="999.3" stroke="#161616" stroke-width="1.3"/><line x1="9.9" y1="960.2" x2="3.5" y2="976.1" stroke="#444" stroke-width="1.8"/><line x1="145.3" y1="986.4" x2="136.3" y2="1006.0" stroke="#161616" stroke-width="1.8"/><line x1="502.9" y1="952.7" x2="505.2" y2="962.8" stroke="#363636" stroke-width="1.3"/><line x1="428.0" y1="957.1" x2="433.9" y2="968.8" stroke="#363636" stroke-width="1.3"/><line x1="74.2" y1="967.8" x2="69.6" y2="977.0" stroke="#444" stroke-width="1.8"/><line x1="181.7" y1="902.3" x2="175.0" y2="920.0" stroke="#3d3d3d" stroke-width="1.8"/><line x1="317.3" y1="971.8" x2="325.2" y2="990.6" stroke="#363636" stroke-width="1.3"/><line x1="81.5" y1="964.8" x2="79.8" y2="978.1" stroke="#444" stroke-width="1"/><line x1="326.4" y1="893.9" x2="331.4" y2="908.7" stroke="#161616" stroke-width="1.3"/><line x1="494.0" y1="907.0" x2="493.9" y2="917.6" stroke="#363636" stroke-width="1"/><line x1="171.6" y1="936.8" x2="166.9" y2="944.4" stroke="#3d3d3d" stroke-width="1.8"/><line x1="283.9" y1="952.9" x2="282.4" y2="965.0" stroke="#1a1a1a" stroke-width="1"/><line x1="110.6" y1="949.5" x2="106.2" y2="965.2" stroke="#1a1a1a" stroke-width="1"/><line x1="317.8" y1="932.1" x2="318.7" y2="951.6" stroke="#444" stroke-width="1.8"/><line x1="585.2" y1="941.5" x2="592.5" y2="958.5" stroke="#444" stroke-width="1.3"/><line x1="144.7" y1="929.5" x2="135.9" y2="945.6" stroke="#363636" stroke-width="1.3"/><line x1="300.8" y1="907.7" x2="303.5" y2="922.8" stroke="#3d3d3d" stroke-width="1"/><line x1="367.0" y1="947.2" x2="365.8" y2="962.3" stroke="#363636" stroke-width="1.3"/><line x1="93.4" y1="902.0" x2="89.0" y2="915.2" stroke="#1a1a1a" stroke-width="1.8"/><line x1="161.7" y1="967.6" x2="157.9" y2="973.6" stroke="#444" stroke-width="1.8"/><line x1="334.1" y1="955.5" x2="338.1" y2="964.4" stroke="#161616" stroke-width="1.3"/><line x1="26.0" y1="950.1" x2="20.4" y2="965.0" stroke="#161616" stroke-width="1.8"/><line x1="306.5" y1="944.6" x2="310.1" y2="958.3" stroke="#363636" stroke-width="1"/><line x1="305.6" y1="945.4" x2="308.8" y2="960.6" stroke="#161616" stroke-width="1.3"/><line x1="287.1" y1="948.4" x2="284.6" y2="965.5" stroke="#363636" stroke-width="1.3"/><line x1="464.6" y1="931.5" x2="464.6" y2="939.7" stroke="#444" stroke-width="1.8"/><line x1="606.2" y1="944.3" x2="608.1" y2="956.7" stroke="#3d3d3d" stroke-width="1.3"/><line x1="342.0" y1="929.2" x2="338.8" y2="949.9" stroke="#444" stroke-width="1"/><line x1="181.9" y1="884.0" x2="175.9" y2="902.7" stroke="#3d3d3d" stroke-width="1"/><line x1="223.9" y1="906.8" x2="215.3" y2="926.7" stroke="#3d3d3d" stroke-width="1"/><line x1="247.9" y1="942.6" x2="246.0" y2="949.3" stroke="#444" stroke-width="1"/><line x1="284.5" y1="919.9" x2="289.5" y2="938.7" stroke="#3d3d3d" stroke-width="1"/><line x1="257.4" y1="900.5" x2="256.6" y2="919.2" stroke="#1a1a1a" stroke-width="1"/><line x1="246.1" y1="936.6" x2="240.2" y2="953.7" stroke="#1a1a1a" stroke-width="1.8"/><line x1="417.7" y1="953.1" x2="420.1" y2="962.0" stroke="#3d3d3d" stroke-width="1"/><line x1="425.2" y1="915.2" x2="430.3" y2="924.3" stroke="#363636" stroke-width="1.8"/><line x1="161.3" y1="920.9" x2="152.1" y2="939.5" stroke="#161616" stroke-width="1"/><line x1="222.1" y1="885.3" x2="216.4" y2="905.5" stroke="#363636" stroke-width="1.8"/><line x1="516.2" y1="916.8" x2="514.8" y2="938.7" stroke="#1a1a1a" stroke-width="1"/><line x1="525.5" y1="930.3" x2="524.6" y2="940.4" stroke="#3d3d3d" stroke-width="1.3"/><line x1="242.3" y1="897.7" x2="241.2" y2="904.3" stroke="#444" stroke-width="1"/><line x1="19.5" y1="951.8" x2="14.9" y2="963.7" stroke="#363636" stroke-width="1.8"/><line x1="434.6" y1="906.9" x2="435.6" y2="924.5" stroke="#363636" stroke-width="1"/><line x1="513.3" y1="934.0" x2="518.8" y2="946.0" stroke="#444" stroke-width="1.3"/><line x1="139.0" y1="914.4" x2="136.7" y2="925.7" stroke="#3d3d3d" stroke-width="1"/><line x1="459.5" y1="924.1" x2="459.4" y2="930.3" stroke="#161616" stroke-width="1.8"/><line x1="412.4" y1="958.0" x2="412.8" y2="967.5" stroke="#3d3d3d" stroke-width="1.3"/><line x1="144.3" y1="951.0" x2="142.0" y2="958.1" stroke="#1a1a1a" stroke-width="1.3"/><line x1="37.0" y1="951.0" x2="33.1" y2="961.6" stroke="#161616" stroke-width="1"/><line x1="97.5" y1="937.2" x2="95.2" y2="950.6" stroke="#363636" stroke-width="1.8"/><line x1="57.2" y1="943.6" x2="55.1" y2="956.2" stroke="#444" stroke-width="1.3"/><line x1="431.3" y1="928.5" x2="439.7" y2="943.6" stroke="#1a1a1a" stroke-width="1"/><line x1="224.0" y1="875.1" x2="222.6" y2="887.5" stroke="#1a1a1a" stroke-width="1.8"/><line x1="184.5" y1="954.7" x2="182.0" y2="974.7" stroke="#3d3d3d" stroke-width="1.3"/><line x1="199.0" y1="912.3" x2="193.7" y2="921.7" stroke="#363636" stroke-width="1.8"/><line x1="288.6" y1="940.9" x2="294.3" y2="961.4" stroke="#444" stroke-width="1.8"/><line x1="579.6" y1="947.6" x2="581.0" y2="963.6" stroke="#1a1a1a" stroke-width="1.8"/><line x1="255.6" y1="903.4" x2="253.8" y2="922.6" stroke="#1a1a1a" stroke-width="1.3"/><line x1="23.5" y1="942.5" x2="20.0" y2="956.2" stroke="#161616" stroke-width="1.3"/><line x1="600.8" y1="943.9" x2="604.1" y2="952.4" stroke="#363636" stroke-width="1"/><line x1="320.2" y1="967.4" x2="331.0" y2="986.2" stroke="#444" stroke-width="1.3"/><line x1="522.1" y1="944.9" x2="521.7" y2="952.1" stroke="#161616" stroke-width="1.3"/><line x1="213.2" y1="971.4" x2="208.3" y2="981.3" stroke="#1a1a1a" stroke-width="1.8"/><line x1="96.2" y1="917.3" x2="94.0" y2="925.6" stroke="#1a1a1a" stroke-width="1.8"/></g>
<g fill="none" stroke="#777" stroke-width=".9" opacity=".9">
 <path d="M20,972 L40,968 L60,966 L75,964 L90,960 L110,958 L130,957 L150,954 L170,953 L200,951 L240,948 L270,947 L300,944 L330,943 L360,940 L400,939 L430,936 L470,935 L500,934 L530,932 L560,930"/>
 <path d="M60,950 L80,944 L100,938 L120,930 L135,922 L150,915"/>
 <path d="M110,975 L115,960 L112,945"/>
 <path d="M322,895 L325,915 L320,930 L322,945"/>
 <path d="M230,955 L250,960 L275,962 L300,958 L340,955 L380,952"/>
 <path d="M380,952 L395,940 L410,935"/>
 <path d="M470,935 L480,925 L490,915"/>
 <path d="M530,932 L540,940 L560,938 L575,942"/>
</g>
<text x="180" y="915" class="b" font-size="20" fill="#fff">La</text>
<text x="180" y="939" class="b" font-size="20" fill="#fff" textLength="62" lengthAdjust="spacingAndGlyphs">Palma</text>
<circle cx="436" cy="891" r="23" fill="#e8141b" opacity=".18"/>
<circle cx="436" cy="891" r="14" fill="#e8141b" opacity=".45"/>
<circle cx="436" cy="891" r="6.4" fill="#e8141b"/>
<text x="446" y="985.5" class="b" font-size="21.5" fill="#c4121a" textLength="70" lengthAdjust="spacingAndGlyphs">Vulcão</text>
<text x="446" y="1009.2" class="b" font-size="21.5" fill="#c4121a" textLength="82" lengthAdjust="spacingAndGlyphs">Cumbre</text>
<text x="446" y="1033.2" class="b" font-size="21.5" fill="#c4121a" textLength="50.5" lengthAdjust="spacingAndGlyphs">Vieja</text>

<!-- CLOUD -->
<g filter="url(#blur8)">
 <ellipse cx="118" cy="1100" rx="52" ry="32" fill="#dcdcdc"/>
 <ellipse cx="65" cy="1158" rx="52" ry="32" fill="#dedede"/>
 <ellipse cx="300" cy="1155" rx="105" ry="36" fill="#e4e4e4"/>
 <ellipse cx="390" cy="1168" rx="45" ry="22" fill="#ececec"/>
 <ellipse cx="160" cy="1158" rx="62" ry="38" fill="#cbcbcb"/>
 <ellipse cx="215" cy="1182" rx="50" ry="24" fill="#bcbcbc"/>
 <ellipse cx="130" cy="1140" rx="30" ry="22" fill="#cdcdcd"/>
 <ellipse cx="255" cy="1200" rx="45" ry="16" fill="#d0d0d0"/>
 <ellipse cx="330" cy="1195" rx="45" ry="16" fill="#e2e2e2"/>
 <ellipse cx="210" cy="1240" rx="35" ry="40" fill="#d2d2d2"/>
 <ellipse cx="175" cy="1215" rx="45" ry="22" fill="#d6d6d6"/>
</g>

<!-- VOLCANO -->
<g id="volcano">
 <!-- cone body -->
 <polygon fill="#3f3f3f" points="263,1201 248,1211 237,1234 225.6,1268 212,1302 196,1340 182.2,1377 171,1415 162.8,1440 148.3,1469 128,1492.3 96,1533 58.2,1576.7 32,1614.5 27.6,1626 18.9,1649.4 18,1652 300,1812 592,1650 589,1643 568.3,1610 536.3,1558 507.2,1511 492.7,1468 482.5,1443 435,1402 401.4,1340 391.7,1307 382,1278 371.4,1251 367.5,1241 349,1220 336,1209 318,1200"/>
 <polygon fill="#4a4a4a" points="386,1340 401.4,1340 435,1402 482.5,1443 492.7,1468 507.2,1511 536.3,1558 568.3,1610 589,1643 592,1650 495,1704 478.2,1610 460.7,1561 443.3,1517 429,1430"/>
 <!-- light stripes -->
 <g fill="#c9c9c9">
  <polygon points="230,1330 215,1380 197,1420 184,1459 180,1466 162.8,1498 136.7,1530 116.3,1556 87.2,1585.4 58.2,1614.5 20.4,1652.3 19,1654 97,1697 150,1726 250,1726 250,1330"/>
  <polygon points="258,1243 262,1243 237.5,1330 230,1330"/>
  <polygon points="268,1236 273,1236 266,1330 259,1330"/>
  <polygon points="340,1242 346,1242 368.5,1340 379,1440 385,1502 372,1502 364,1440 352,1340"/>
  <polygon points="358.8,1260 362,1260 386,1340 429,1430 443.3,1517 460.7,1561 478.2,1610 495,1706 483,1706 463.6,1610 446,1561 431.6,1517 410,1430 378,1340"/>
 </g>
 <g fill="#404040">
  <polygon points="237.5,1330 262,1330 262,1343 247,1382 230.5,1420 226.6,1459 224,1472 182.7,1500 194.3,1459 207,1420 222,1382"/>
  <polygon points="221.5,1521 180,1536 162.8,1547.6 139.6,1576.7 122,1603 110.5,1637.7 101.8,1660 97,1697 147,1722 201.6,1590 213.7,1570"/>
 </g>
<clipPath id="conep"><polygon points="263,1201 248,1211 237,1234 225.6,1268 212,1302 196,1340 182.2,1377 171,1415 162.8,1440 148.3,1469 128,1492.3 96,1533 58.2,1576.7 32,1614.5 27.6,1626 18.9,1649.4 18,1652 300,1812 592,1650 589,1643 568.3,1610 536.3,1558 507.2,1511 492.7,1468 482.5,1443 435,1402 401.4,1340 391.7,1307 382,1278 371.4,1251 367.5,1241 349,1220 336,1209 318,1200"/></clipPath>
 <g clip-path="url(#conep)" fill="none" stroke-width=".9" opacity=".55"><polyline points="376.3,1585.7 389.3,1588.6 394.9,1581.3 405.6,1582.9 408.3,1588.3" stroke="#5a5a5a"/><polyline points="518.7,1398.0 513.4,1402.5 509.0,1415.0" stroke="#5a5a5a"/><polyline points="107.6,1614.5 102.5,1611.0 103.4,1606.0" stroke="#303030"/><polyline points="571.9,1286.2 562.3,1288.4 555.6,1286.9" stroke="#303030"/><polyline points="575.6,1664.7 589.0,1663.8 595.4,1659.1 605.6,1660.4" stroke="#333"/><polyline points="53.3,1384.8 45.4,1389.8 39.9,1390.2 37.4,1385.6" stroke="#333"/><polyline points="505.0,1209.4 501.0,1212.5 502.1,1219.0 496.7,1223.1" stroke="#303030"/><polyline points="554.2,1689.9 550.4,1683.7 544.3,1675.4 544.6,1667.1" stroke="#333"/><polyline points="36.2,1691.8 38.1,1699.9 44.7,1703.4" stroke="#2c2c2c"/><polyline points="196.2,1364.7 202.8,1355.3 204.2,1346.1" stroke="#2c2c2c"/><polyline points="62.0,1512.3 67.7,1518.0 78.4,1519.9 89.2,1511.3" stroke="#2c2c2c"/><polyline points="480.0,1373.8 482.6,1387.1 481.2,1399.1" stroke="#2c2c2c"/><polyline points="112.9,1394.0 113.8,1384.9 126.1,1381.6" stroke="#5a5a5a"/><polyline points="571.9,1558.2 564.9,1563.3 564.2,1571.7 551.2,1575.8" stroke="#5a5a5a"/><polyline points="518.3,1293.7 509.0,1302.4 503.4,1313.1 493.1,1317.8" stroke="#2c2c2c"/><polyline points="455.6,1389.0 457.7,1381.9 469.1,1380.5 473.6,1387.1 486.0,1389.7" stroke="#5a5a5a"/><polyline points="332.3,1330.4 335.6,1339.3 335.1,1347.5 338.9,1354.6 334.2,1362.0" stroke="#303030"/><polyline points="519.5,1557.9 529.1,1555.7 535.5,1545.0 544.8,1545.1" stroke="#2c2c2c"/><polyline points="432.4,1579.8 434.4,1570.3 441.8,1568.0" stroke="#333"/><polyline points="432.8,1214.4 428.4,1209.4 427.7,1202.8" stroke="#2c2c2c"/><polyline points="587.2,1709.5 593.9,1705.4 595.7,1698.9" stroke="#2c2c2c"/><polyline points="256.0,1382.6 251.7,1376.9 253.2,1372.1 253.9,1364.7 253.1,1358.7" stroke="#333"/><polyline points="574.3,1486.0 580.5,1491.2 589.0,1501.8 588.2,1510.6" stroke="#333"/><polyline points="286.1,1281.5 285.1,1267.8 286.7,1259.8 291.2,1257.7" stroke="#2c2c2c"/><polyline points="204.1,1676.6 208.9,1688.7 214.4,1695.6 221.8,1697.4 223.5,1705.7" stroke="#303030"/><polyline points="360.6,1335.1 352.9,1336.9 347.3,1329.3 338.8,1325.5" stroke="#2c2c2c"/><polyline points="397.8,1699.6 387.7,1706.9 389.9,1716.5" stroke="#333"/><polyline points="156.2,1446.6 159.7,1452.0 155.5,1458.3" stroke="#5a5a5a"/><polyline points="315.6,1649.0 314.0,1643.1 306.1,1634.9 300.6,1624.8 292.4,1625.3" stroke="#303030"/><polyline points="36.1,1331.3 25.2,1328.8 17.5,1333.1 7.4,1330.9" stroke="#5a5a5a"/><polyline points="513.0,1637.4 506.4,1636.3 494.5,1640.3 492.0,1652.5" stroke="#5a5a5a"/><polyline points="352.6,1537.2 354.0,1528.0 356.6,1518.8 355.7,1512.5" stroke="#2c2c2c"/><polyline points="54.7,1319.6 57.9,1315.5 70.7,1310.3" stroke="#5a5a5a"/><polyline points="421.7,1225.4 419.6,1238.8 415.8,1243.7" stroke="#333"/><polyline points="424.3,1427.7 418.7,1424.7 414.8,1420.9" stroke="#2c2c2c"/><polyline points="397.9,1587.7 407.9,1593.7 408.7,1599.9 410.9,1607.4" stroke="#5a5a5a"/><polyline points="299.0,1688.0 300.2,1680.5 303.8,1670.0 301.5,1656.7" stroke="#303030"/><polyline points="167.7,1486.9 167.7,1473.1 176.3,1463.7 181.3,1456.8" stroke="#303030"/><polyline points="428.7,1540.6 418.6,1548.4 411.3,1553.8" stroke="#5a5a5a"/><polyline points="523.6,1449.8 530.8,1456.6 542.1,1462.3 542.4,1471.2" stroke="#303030"/><polyline points="449.8,1243.6 441.5,1251.2 435.2,1262.1 434.9,1275.4 428.9,1286.0" stroke="#5a5a5a"/><polyline points="94.1,1632.2 86.4,1643.4 84.9,1648.5 78.1,1649.3 74.5,1653.6" stroke="#2c2c2c"/><polyline points="34.2,1305.3 28.2,1296.1 21.0,1291.0" stroke="#333"/><polyline points="531.1,1522.1 528.6,1528.4 524.9,1532.6 512.1,1531.9" stroke="#5a5a5a"/><polyline points="103.2,1332.1 112.7,1326.4 111.5,1313.4 106.3,1302.9" stroke="#333"/><polyline points="559.0,1557.6 553.6,1554.2 551.1,1546.7 548.1,1540.2 551.7,1536.3" stroke="#2c2c2c"/><polyline points="348.3,1541.4 341.1,1537.3 331.9,1536.7 321.5,1541.8 315.1,1541.4" stroke="#303030"/><polyline points="116.9,1308.6 106.8,1299.2 101.8,1301.5" stroke="#5a5a5a"/><polyline points="113.5,1217.3 112.2,1205.9 104.0,1196.9 94.9,1198.2 84.5,1195.1" stroke="#5a5a5a"/><polyline points="245.4,1231.3 249.6,1221.3 262.6,1217.6 268.6,1208.1" stroke="#5a5a5a"/><polyline points="124.1,1321.5 114.8,1311.3 109.1,1311.1 100.2,1305.3" stroke="#5a5a5a"/><polyline points="328.0,1453.0 329.0,1446.9 319.1,1440.5 312.3,1429.4 318.3,1421.5" stroke="#303030"/><polyline points="195.8,1245.6 195.7,1239.4 189.6,1235.6 181.6,1239.4" stroke="#303030"/><polyline points="175.0,1456.2 181.9,1453.1 186.3,1449.2" stroke="#5a5a5a"/><polyline points="461.3,1397.5 473.0,1390.9 473.9,1385.7 466.9,1377.1 466.8,1371.9" stroke="#2c2c2c"/><polyline points="421.7,1339.2 413.9,1339.5 408.1,1347.0 406.9,1352.2" stroke="#2c2c2c"/><polyline points="30.9,1226.3 33.3,1219.4 38.4,1218.6" stroke="#5a5a5a"/><polyline points="87.7,1304.6 99.6,1308.1 103.6,1312.4 107.7,1317.5" stroke="#303030"/><polyline points="273.8,1688.0 286.4,1692.0 295.1,1693.9 307.0,1694.7" stroke="#303030"/><polyline points="323.9,1704.2 331.9,1694.4 338.1,1691.5 337.3,1678.4 329.9,1669.7" stroke="#333"/><polyline points="242.8,1312.1 242.6,1302.5 249.5,1292.6 253.1,1280.9" stroke="#2c2c2c"/><polyline points="373.5,1408.4 381.7,1410.7 388.2,1405.1" stroke="#333"/><polyline points="537.1,1303.6 527.5,1305.7 525.0,1312.1 520.7,1316.1" stroke="#303030"/><polyline points="486.7,1211.6 494.8,1209.2 505.5,1205.4 517.1,1197.9 530.2,1200.2" stroke="#2c2c2c"/><polyline points="326.3,1615.3 328.2,1603.5 324.2,1597.1 312.3,1598.4" stroke="#5a5a5a"/><polyline points="192.9,1683.2 195.4,1678.5 188.9,1666.5 182.1,1661.9" stroke="#303030"/><polyline points="295.2,1247.8 286.5,1252.6 282.8,1256.0" stroke="#5a5a5a"/><polyline points="234.2,1590.4 244.1,1594.1 250.1,1594.5 258.7,1599.6 262.8,1606.9" stroke="#2c2c2c"/><polyline points="138.4,1358.9 129.5,1348.7 120.9,1350.1 114.2,1358.7" stroke="#5a5a5a"/><polyline points="256.8,1421.2 248.0,1421.3 241.1,1432.3 239.7,1441.0 244.5,1446.9" stroke="#303030"/><polyline points="266.6,1369.5 264.4,1358.2 255.5,1355.2" stroke="#2c2c2c"/><polyline points="199.7,1642.2 187.0,1639.1 176.4,1633.1 175.2,1628.3 176.2,1622.4" stroke="#333"/><polyline points="103.1,1520.2 95.7,1517.6 91.9,1512.1" stroke="#2c2c2c"/><polyline points="226.9,1623.4 231.9,1631.0 233.5,1642.6" stroke="#2c2c2c"/><polyline points="157.6,1689.5 159.0,1699.8 163.6,1709.9 169.5,1722.3" stroke="#2c2c2c"/><polyline points="299.6,1687.6 305.1,1695.1 314.8,1701.5 314.6,1710.0 318.9,1718.4" stroke="#2c2c2c"/><polyline points="348.9,1353.9 350.4,1345.1 343.6,1333.0 333.6,1327.3" stroke="#303030"/><polyline points="172.2,1249.9 167.6,1261.6 160.8,1264.0 155.2,1266.7" stroke="#2c2c2c"/><polyline points="18.0,1598.3 11.0,1591.0 15.1,1578.9 6.4,1568.3" stroke="#303030"/><polyline points="580.1,1430.2 576.5,1420.4 580.6,1412.2 576.5,1407.2" stroke="#5a5a5a"/><polyline points="513.9,1688.7 512.1,1683.7 500.3,1682.5 487.5,1684.0 477.1,1675.8" stroke="#5a5a5a"/><polyline points="23.6,1624.1 24.2,1612.1 22.3,1598.5" stroke="#333"/><polyline points="140.7,1419.1 145.0,1421.7 152.7,1430.8 153.2,1436.5" stroke="#5a5a5a"/><polyline points="35.8,1413.0 48.2,1414.0 52.2,1423.6" stroke="#303030"/><polyline points="286.5,1240.2 286.9,1233.5 286.0,1226.2 290.0,1218.8" stroke="#303030"/><polyline points="103.1,1469.5 97.3,1470.5 90.1,1473.5 81.8,1468.1 70.2,1462.6" stroke="#303030"/><polyline points="167.6,1483.6 165.2,1494.3 169.0,1497.7 176.1,1497.9 182.2,1501.7" stroke="#333"/><polyline points="47.5,1460.3 53.9,1450.1 59.6,1443.3" stroke="#2c2c2c"/><polyline points="394.8,1680.9 384.6,1682.0 376.2,1681.0 363.8,1683.2" stroke="#2c2c2c"/><polyline points="388.9,1228.7 375.6,1229.9 367.2,1235.2" stroke="#5a5a5a"/><polyline points="95.0,1382.5 105.0,1384.3 112.1,1375.0 108.6,1362.5" stroke="#333"/><polyline points="576.2,1336.9 572.6,1341.9 572.5,1347.1 576.1,1352.6" stroke="#303030"/><polyline points="422.2,1507.8 432.1,1510.7 444.0,1516.1 450.1,1516.7" stroke="#5a5a5a"/><polyline points="40.1,1628.5 39.5,1623.3 36.7,1615.1 34.4,1606.4" stroke="#303030"/><polyline points="326.1,1562.0 330.0,1566.4 339.0,1564.6 351.8,1566.7 356.2,1570.3" stroke="#333"/><polyline points="84.9,1592.3 75.7,1601.4 71.7,1611.5 68.7,1619.4" stroke="#303030"/><polyline points="562.2,1363.6 570.0,1366.0 576.7,1360.3 586.6,1355.9 588.9,1350.1" stroke="#5a5a5a"/><polyline points="113.5,1461.1 118.3,1468.6 122.1,1477.3 117.8,1482.8 117.6,1489.3" stroke="#333"/><polyline points="499.8,1352.7 506.1,1363.6 510.4,1372.0" stroke="#2c2c2c"/><polyline points="569.6,1260.6 573.9,1270.4 569.7,1279.7" stroke="#2c2c2c"/><polyline points="465.3,1482.4 464.0,1475.2 461.0,1467.8" stroke="#2c2c2c"/><polyline points="195.9,1352.2 190.6,1350.4 184.1,1351.4 176.7,1341.8" stroke="#5a5a5a"/><polyline points="75.4,1416.4 67.1,1411.1 60.4,1402.2" stroke="#333"/><polyline points="556.2,1691.9 556.0,1699.1 554.3,1704.7 547.4,1713.3" stroke="#5a5a5a"/><polyline points="268.7,1341.5 264.0,1339.1 261.6,1325.4 252.1,1320.0 245.6,1321.7" stroke="#2c2c2c"/><polyline points="95.9,1227.9 83.4,1232.4 74.1,1234.0 65.1,1241.5 62.4,1250.3" stroke="#2c2c2c"/><polyline points="92.8,1305.4 101.3,1308.4 108.3,1306.2 119.7,1306.6 127.6,1301.8" stroke="#303030"/><polyline points="480.1,1450.5 471.9,1451.3 467.4,1461.8 473.1,1472.3" stroke="#333"/><polyline points="350.0,1450.3 357.8,1443.3 362.7,1440.7 368.0,1432.6" stroke="#333"/><polyline points="255.5,1707.7 261.8,1719.7 271.2,1719.4" stroke="#303030"/><polyline points="196.2,1643.6 187.7,1649.4 177.5,1657.8 171.1,1662.5 159.2,1664.7" stroke="#2c2c2c"/><polyline points="107.4,1457.2 98.4,1455.3 91.4,1456.0" stroke="#2c2c2c"/><polyline points="292.6,1262.1 301.8,1264.7 308.5,1270.0" stroke="#2c2c2c"/><polyline points="238.2,1535.3 240.6,1528.8 239.0,1523.5" stroke="#333"/><polyline points="267.2,1359.3 274.7,1366.0 276.0,1377.9 270.5,1389.8 268.1,1394.2" stroke="#5a5a5a"/><polyline points="48.0,1207.5 55.5,1212.3 58.0,1221.3" stroke="#2c2c2c"/><polyline points="29.4,1613.5 29.5,1603.0 35.8,1592.1 39.6,1588.5 53.3,1590.7" stroke="#303030"/><polyline points="576.6,1562.1 582.1,1563.9 586.9,1562.2" stroke="#5a5a5a"/><polyline points="48.6,1297.5 42.6,1297.7 36.2,1299.7 31.4,1311.9" stroke="#303030"/><polyline points="252.1,1213.7 242.6,1219.6 235.4,1217.8 230.1,1222.5" stroke="#5a5a5a"/><polyline points="475.0,1416.4 486.0,1410.6 497.5,1411.5 505.8,1405.4 518.5,1404.0" stroke="#2c2c2c"/><polyline points="126.4,1477.4 129.0,1487.5 132.4,1492.8" stroke="#333"/><polyline points="120.6,1483.0 119.9,1488.0 116.2,1501.1 109.2,1504.9 104.2,1502.0" stroke="#303030"/><polyline points="228.2,1713.9 225.3,1705.0 229.0,1696.7 239.3,1695.1 245.8,1694.7" stroke="#5a5a5a"/><polyline points="339.1,1708.6 346.3,1718.6 356.1,1717.9" stroke="#303030"/><polyline points="63.3,1540.6 66.9,1548.5 76.5,1556.8 77.9,1564.4" stroke="#2c2c2c"/><polyline points="552.6,1663.0 558.0,1660.9 569.9,1655.8 573.5,1648.9 576.6,1638.8" stroke="#2c2c2c"/><polyline points="577.6,1468.7 581.3,1464.4 585.0,1456.5 581.0,1446.7" stroke="#5a5a5a"/><polyline points="66.0,1378.1 68.2,1385.7 63.6,1394.0" stroke="#2c2c2c"/><polyline points="412.9,1435.5 412.6,1427.7 410.9,1414.8" stroke="#333"/><polyline points="312.7,1248.6 302.4,1245.2 295.2,1240.3 289.6,1237.8 277.2,1234.3" stroke="#333"/><polyline points="471.0,1418.9 476.5,1415.9 482.3,1407.6 490.6,1399.9 487.1,1387.1" stroke="#333"/><polyline points="378.4,1348.0 380.5,1355.3 378.6,1364.9 368.7,1366.8 360.4,1370.6" stroke="#5a5a5a"/><polyline points="506.6,1292.2 510.5,1296.5 516.4,1301.1 515.5,1309.1" stroke="#2c2c2c"/><polyline points="241.3,1645.6 243.1,1657.0 245.1,1664.2 252.6,1668.6" stroke="#5a5a5a"/><polyline points="198.0,1301.3 188.9,1302.4 184.7,1305.5" stroke="#303030"/><polyline points="397.2,1326.7 402.1,1324.8 404.7,1315.1 399.5,1309.0" stroke="#333"/><polyline points="109.1,1685.8 118.4,1686.8 129.4,1679.3" stroke="#333"/><polyline points="472.1,1314.9 481.9,1321.4 492.5,1317.5 496.4,1305.0" stroke="#2c2c2c"/><polyline points="462.9,1665.5 474.4,1669.1 480.6,1667.3 484.4,1663.2 483.9,1651.7" stroke="#5a5a5a"/><polyline points="501.2,1598.9 512.7,1597.7 524.6,1603.5 531.6,1608.2" stroke="#2c2c2c"/><polyline points="178.8,1219.0 186.7,1210.4 194.5,1211.9 204.1,1207.6" stroke="#2c2c2c"/><polyline points="500.4,1587.1 508.3,1584.8 512.9,1579.6 523.2,1579.4 534.2,1577.8" stroke="#303030"/><polyline points="147.3,1202.9 155.7,1202.3 162.4,1204.2 165.2,1209.8" stroke="#303030"/><polyline points="83.9,1507.8 88.9,1502.9 93.5,1496.7 94.0,1486.3 97.2,1474.5" stroke="#2c2c2c"/><polyline points="407.2,1532.7 394.8,1534.0 386.3,1539.5 376.0,1543.0 370.7,1548.2" stroke="#5a5a5a"/><polyline points="509.1,1514.9 516.7,1521.5 522.7,1521.4 525.4,1525.8" stroke="#5a5a5a"/><polyline points="119.8,1484.1 125.2,1490.7 123.6,1496.2" stroke="#333"/><polyline points="195.8,1258.6 202.3,1254.9 210.5,1258.6" stroke="#333"/><polyline points="54.0,1405.4 41.0,1400.6 40.0,1395.1" stroke="#5a5a5a"/><polyline points="370.4,1223.0 366.3,1214.4 358.0,1211.4 352.8,1201.6 344.7,1199.3" stroke="#303030"/><polyline points="343.3,1608.4 347.1,1614.3 352.6,1622.4 353.3,1634.2 355.2,1647.6" stroke="#5a5a5a"/><polyline points="381.1,1324.1 369.9,1331.7 370.1,1343.7" stroke="#5a5a5a"/><polyline points="328.0,1610.6 334.7,1618.8 337.4,1632.1 331.2,1642.9 335.6,1650.6" stroke="#303030"/><polyline points="563.7,1593.2 565.0,1579.3 566.5,1567.6 564.8,1560.8" stroke="#303030"/><polyline points="301.3,1456.6 306.7,1446.0 310.0,1442.1 316.5,1444.1 323.2,1447.0" stroke="#333"/><polyline points="148.5,1548.1 144.0,1535.8 140.8,1528.5 133.9,1524.0" stroke="#2c2c2c"/><polyline points="197.5,1611.5 185.8,1618.2 181.1,1623.7" stroke="#333"/><polyline points="75.5,1490.6 80.7,1495.9 92.7,1495.2 97.5,1487.6" stroke="#303030"/><polyline points="329.8,1654.3 332.3,1662.8 331.6,1671.2 341.0,1679.5" stroke="#5a5a5a"/><polyline points="442.6,1621.8 439.4,1627.1 430.0,1632.2" stroke="#333"/><polyline points="587.7,1488.2 587.3,1501.9 595.9,1505.6 603.5,1517.3" stroke="#2c2c2c"/><polyline points="193.4,1604.3 199.1,1595.8 206.7,1590.0" stroke="#5a5a5a"/><polyline points="318.7,1550.1 311.9,1550.9 307.1,1548.9 300.3,1543.5 302.2,1534.4" stroke="#303030"/><polyline points="535.5,1671.2 530.3,1678.9 532.8,1684.2 528.0,1693.1" stroke="#333"/><polyline points="587.8,1424.9 598.1,1428.7 604.7,1422.8 615.0,1423.6 620.8,1419.5" stroke="#2c2c2c"/><polyline points="464.5,1423.1 453.7,1415.7 443.7,1409.0" stroke="#303030"/><polyline points="272.9,1284.7 267.7,1279.1 270.8,1271.9 283.1,1270.0" stroke="#303030"/><polyline points="57.5,1345.4 54.7,1354.6 48.3,1359.9 35.6,1360.0 27.3,1362.5" stroke="#333"/><polyline points="259.2,1634.8 254.5,1622.2 241.6,1621.1" stroke="#2c2c2c"/><polyline points="465.6,1673.0 468.3,1664.1 474.9,1658.1 475.5,1651.1" stroke="#2c2c2c"/><polyline points="342.0,1396.6 348.8,1391.2 353.0,1379.9 355.2,1373.8" stroke="#2c2c2c"/><polyline points="454.4,1370.6 447.8,1366.7 437.4,1366.1" stroke="#5a5a5a"/><polyline points="458.5,1286.3 469.2,1280.7 478.2,1286.2" stroke="#2c2c2c"/><polyline points="473.0,1570.2 475.8,1579.4 473.8,1589.4" stroke="#333"/><polyline points="461.7,1640.7 460.2,1629.7 464.5,1625.5 472.9,1618.3 484.0,1617.2" stroke="#333"/><polyline points="181.7,1662.3 180.7,1672.7 179.8,1686.6 181.5,1695.5 179.0,1702.9" stroke="#2c2c2c"/><polyline points="582.4,1541.9 580.8,1535.0 586.1,1524.1 583.1,1519.0" stroke="#5a5a5a"/><polyline points="582.2,1522.9 591.0,1522.1 599.2,1520.8 608.3,1525.3" stroke="#2c2c2c"/><polyline points="506.1,1715.0 492.7,1713.9 484.8,1708.7 484.7,1703.1 479.2,1694.0" stroke="#303030"/><polyline points="458.0,1401.3 455.0,1414.1 454.5,1419.8" stroke="#2c2c2c"/><polyline points="72.9,1470.0 74.0,1463.0 79.7,1456.2" stroke="#5a5a5a"/><polyline points="190.3,1319.8 180.3,1324.2 175.6,1322.1 164.1,1327.7 158.0,1328.6" stroke="#2c2c2c"/><polyline points="239.4,1219.4 248.4,1220.7 257.2,1221.5" stroke="#303030"/><polyline points="204.4,1382.5 209.1,1372.1 220.7,1371.1 225.6,1373.0 233.7,1381.1" stroke="#5a5a5a"/><polyline points="557.4,1370.7 561.1,1366.3 562.1,1360.7 557.8,1357.0 553.7,1348.3" stroke="#2c2c2c"/><polyline points="125.6,1694.0 117.8,1690.6 112.5,1686.6 114.0,1681.0" stroke="#333"/><polyline points="169.1,1579.8 161.4,1578.4 153.5,1585.2 156.2,1593.7 167.0,1600.1" stroke="#333"/><polyline points="470.1,1457.8 479.3,1464.1 489.4,1465.8 501.1,1468.5" stroke="#2c2c2c"/><polyline points="385.1,1493.1 390.2,1481.1 399.5,1477.9" stroke="#303030"/><polyline points="368.2,1645.1 370.5,1650.0 377.1,1651.3 383.9,1649.7 390.3,1657.5" stroke="#303030"/><polyline points="151.8,1300.3 151.1,1290.0 152.3,1285.0" stroke="#333"/><polyline points="555.3,1449.7 555.9,1458.5 551.1,1462.6" stroke="#333"/><polyline points="115.8,1479.2 107.5,1479.2 98.0,1469.2 96.0,1462.9 93.1,1457.0" stroke="#303030"/><polyline points="482.5,1228.5 496.2,1225.5 508.2,1232.2 509.3,1245.9 514.5,1249.3" stroke="#333"/><polyline points="169.8,1645.2 173.4,1633.7 171.3,1627.5" stroke="#303030"/><polyline points="165.1,1593.9 154.3,1592.1 152.5,1587.0 147.8,1581.7" stroke="#2c2c2c"/><polyline points="353.0,1202.7 353.6,1194.8 354.9,1182.1 349.1,1176.5" stroke="#5a5a5a"/><polyline points="424.5,1402.0 430.9,1412.7 435.0,1424.4 442.6,1429.0 455.1,1428.4" stroke="#2c2c2c"/><polyline points="225.3,1422.8 219.5,1424.1 215.3,1428.6 216.5,1440.2" stroke="#303030"/><polyline points="60.9,1393.1 60.4,1403.9 51.0,1410.6" stroke="#333"/><polyline points="382.1,1261.4 373.6,1258.7 368.1,1249.5 361.2,1249.3" stroke="#333"/><polyline points="472.8,1321.2 478.1,1327.4 477.5,1335.8" stroke="#303030"/><polyline points="176.3,1378.9 166.5,1386.4 156.1,1388.6 143.3,1387.6 137.7,1385.5" stroke="#333"/><polyline points="117.4,1481.0 113.0,1489.4 117.3,1496.1 130.4,1498.5" stroke="#5a5a5a"/><polyline points="335.6,1354.9 337.9,1362.7 338.0,1375.7 347.7,1384.3" stroke="#333"/><polyline points="156.2,1328.4 148.5,1324.2 140.8,1315.7" stroke="#303030"/><polyline points="255.0,1474.0 252.8,1484.1 259.2,1488.3" stroke="#303030"/><polyline points="508.1,1702.7 520.8,1705.5 525.9,1709.0 536.0,1714.2 541.4,1712.1" stroke="#5a5a5a"/><polyline points="550.7,1538.4 546.7,1532.7 549.6,1519.7" stroke="#303030"/><polyline points="381.6,1681.7 370.1,1682.3 365.5,1685.4 359.7,1684.7" stroke="#2c2c2c"/><polyline points="411.2,1422.7 401.4,1430.8 392.4,1433.1 387.5,1430.4" stroke="#5a5a5a"/><polyline points="193.5,1327.7 199.0,1330.6 206.7,1340.3" stroke="#333"/><polyline points="548.4,1515.9 554.6,1521.6 562.5,1527.7 562.9,1538.4 557.3,1542.9" stroke="#5a5a5a"/><polyline points="242.2,1294.9 229.4,1297.1 218.5,1299.3 214.0,1292.7" stroke="#5a5a5a"/><polyline points="331.9,1348.4 327.0,1354.9 322.7,1368.1 319.6,1374.1 323.2,1379.2" stroke="#5a5a5a"/><polyline points="350.2,1654.9 356.0,1652.6 361.8,1658.2" stroke="#303030"/><polyline points="210.6,1405.8 215.2,1414.1 222.0,1415.3" stroke="#5a5a5a"/><polyline points="406.8,1621.7 393.8,1619.3 390.7,1608.7 382.0,1600.7 370.0,1596.2" stroke="#5a5a5a"/><polyline points="136.0,1633.1 138.5,1625.4 134.3,1618.2" stroke="#2c2c2c"/><polyline points="113.6,1690.7 121.9,1684.7 121.5,1679.4 123.0,1670.6" stroke="#333"/><polyline points="312.4,1387.4 319.8,1388.6 322.9,1394.3 331.6,1402.9" stroke="#333"/><polyline points="449.3,1590.9 443.0,1594.7 431.2,1593.6" stroke="#333"/><polyline points="508.6,1687.6 510.7,1693.9 515.3,1698.0 514.5,1706.1" stroke="#303030"/><polyline points="437.6,1566.4 449.6,1562.7 458.5,1559.7" stroke="#303030"/><polyline points="142.7,1681.6 137.5,1671.3 141.7,1659.7 140.6,1650.2 147.8,1643.6" stroke="#5a5a5a"/><polyline points="320.4,1216.7 321.9,1224.3 319.1,1229.0 319.3,1236.4 324.4,1245.9" stroke="#2c2c2c"/><polyline points="468.7,1577.2 478.4,1585.9 478.3,1592.3 474.4,1597.8 473.0,1604.3" stroke="#5a5a5a"/><polyline points="29.2,1292.2 31.8,1303.2 35.9,1310.9 45.4,1315.8 46.6,1325.5" stroke="#2c2c2c"/><polyline points="281.3,1329.5 292.8,1322.1 302.8,1320.8 314.9,1324.9 322.0,1330.3" stroke="#5a5a5a"/><polyline points="267.0,1605.3 265.4,1616.0 267.9,1626.9 276.1,1635.3" stroke="#5a5a5a"/><polyline points="354.3,1229.4 349.6,1218.9 339.9,1216.7 330.7,1218.0 326.3,1221.5" stroke="#5a5a5a"/><polyline points="123.9,1462.0 118.7,1459.4 113.8,1452.9 106.6,1450.3" stroke="#2c2c2c"/><polyline points="263.8,1463.7 261.5,1459.0 253.0,1449.9" stroke="#303030"/><polyline points="549.9,1384.2 553.4,1390.6 550.5,1398.1 541.2,1407.8 535.3,1411.1" stroke="#5a5a5a"/><polyline points="163.6,1435.3 166.9,1424.6 170.7,1412.9 172.9,1406.5 177.9,1401.1" stroke="#303030"/><polyline points="483.1,1300.2 496.6,1298.4 504.9,1297.5 515.9,1295.1 524.4,1293.4" stroke="#333"/><polyline points="323.9,1463.8 317.5,1455.2 308.3,1453.4 303.2,1452.5 296.4,1458.5" stroke="#5a5a5a"/><polyline points="504.5,1619.2 510.2,1621.6 513.3,1627.5 518.3,1631.3" stroke="#5a5a5a"/><polyline points="136.5,1322.4 137.1,1312.5 127.3,1307.2 117.9,1301.0 113.8,1293.5" stroke="#5a5a5a"/><polyline points="206.9,1221.7 212.5,1209.5 206.6,1200.6 206.0,1192.3" stroke="#333"/><polyline points="501.1,1624.0 506.0,1628.2 504.5,1637.9" stroke="#5a5a5a"/><polyline points="385.8,1226.2 392.7,1219.6 398.1,1208.6 395.0,1202.6 383.5,1199.2" stroke="#5a5a5a"/><polyline points="269.4,1377.8 262.7,1374.9 256.0,1377.4" stroke="#5a5a5a"/><polyline points="576.4,1438.6 567.8,1446.1 569.8,1456.9 567.2,1467.2 573.3,1473.0" stroke="#2c2c2c"/><polyline points="124.5,1580.5 117.2,1583.5 106.3,1581.5 95.5,1577.5" stroke="#2c2c2c"/><polyline points="95.4,1506.3 97.2,1512.0 108.7,1513.5 121.1,1512.4 125.0,1515.8" stroke="#333"/><polyline points="76.9,1494.4 88.1,1496.9 98.8,1492.8" stroke="#5a5a5a"/><polyline points="77.7,1269.8 75.2,1277.1 62.4,1280.9 56.6,1281.7" stroke="#333"/><polyline points="120.1,1344.6 120.4,1350.2 123.9,1362.1 128.8,1369.9" stroke="#303030"/><polyline points="582.4,1220.6 581.5,1212.6 585.0,1208.5 593.2,1208.8" stroke="#333"/><polyline points="528.9,1464.6 536.9,1462.7 540.6,1458.1 551.0,1449.5" stroke="#303030"/><polyline points="55.0,1377.4 61.0,1376.8 63.8,1368.9 70.0,1368.3" stroke="#303030"/><polyline points="442.0,1431.8 446.1,1437.8 442.5,1448.8" stroke="#303030"/><polyline points="356.5,1510.4 347.4,1517.3 348.7,1529.2" stroke="#333"/><polyline points="550.7,1592.3 549.5,1598.8 542.4,1600.8 534.7,1597.2 525.6,1593.8" stroke="#303030"/><polyline points="112.2,1220.6 116.5,1224.2 126.2,1226.3 131.7,1223.7 138.5,1227.5" stroke="#303030"/><polyline points="24.8,1696.6 38.0,1699.8 43.5,1701.9 44.7,1710.5 37.1,1719.5" stroke="#2c2c2c"/><polyline points="481.4,1351.5 482.8,1339.9 486.6,1334.1 494.0,1333.0 498.7,1340.9" stroke="#333"/><polyline points="524.1,1364.3 532.9,1364.0 538.5,1359.7 545.8,1349.5" stroke="#333"/><polyline points="545.4,1614.4 542.0,1607.2 533.1,1597.5 522.8,1594.9 517.8,1592.8" stroke="#2c2c2c"/><polyline points="257.8,1667.3 256.9,1680.5 257.0,1689.4" stroke="#303030"/><polyline points="493.8,1316.3 500.8,1306.1 512.8,1305.5" stroke="#5a5a5a"/><polyline points="195.3,1638.4 196.2,1649.3 206.8,1652.9 214.3,1650.4" stroke="#303030"/><polyline points="218.4,1213.9 214.9,1210.1 205.6,1212.6" stroke="#333"/><polyline points="19.1,1263.4 15.6,1267.6 8.9,1271.6 6.5,1280.2 0.8,1285.9" stroke="#5a5a5a"/><polyline points="124.3,1490.8 135.6,1490.7 141.0,1485.2" stroke="#5a5a5a"/><polyline points="239.6,1375.7 231.0,1378.8 222.1,1376.0" stroke="#2c2c2c"/><polyline points="442.3,1225.2 436.8,1223.0 426.9,1215.7" stroke="#333"/><polyline points="581.7,1442.4 585.5,1438.3 589.8,1425.8 588.7,1420.1 596.7,1410.7" stroke="#5a5a5a"/><polyline points="495.1,1658.9 492.8,1647.6 501.6,1639.3 508.2,1633.8 520.7,1639.8" stroke="#303030"/><polyline points="308.8,1664.4 301.9,1672.3 303.2,1680.2 303.1,1689.8" stroke="#333"/><polyline points="556.6,1500.9 543.5,1505.4 532.0,1509.3 525.0,1505.8 515.1,1496.7" stroke="#2c2c2c"/><polyline points="244.3,1574.3 232.4,1571.7 226.2,1571.1" stroke="#333"/><polyline points="250.6,1688.0 245.5,1701.0 250.0,1707.0" stroke="#2c2c2c"/><polyline points="558.9,1557.7 555.5,1545.6 552.6,1540.5 551.2,1527.8" stroke="#2c2c2c"/><polyline points="493.4,1664.5 495.9,1670.7 499.2,1677.3 504.3,1686.5" stroke="#303030"/><polyline points="21.5,1563.9 28.0,1565.7 32.0,1562.5 44.5,1568.0" stroke="#2c2c2c"/><polyline points="589.1,1683.0 585.5,1687.8 576.2,1693.9 569.1,1694.6 562.9,1703.3" stroke="#333"/><polyline points="396.5,1518.1 406.6,1527.5 415.5,1532.5 428.3,1533.9" stroke="#303030"/><polyline points="437.4,1669.1 442.2,1670.8 447.7,1680.4 448.7,1691.2" stroke="#303030"/><polyline points="549.2,1633.9 557.9,1627.9 565.3,1622.2 576.0,1616.8" stroke="#5a5a5a"/><polyline points="551.9,1439.0 559.2,1441.1 568.9,1440.9 581.2,1434.5 591.7,1439.2" stroke="#5a5a5a"/><polyline points="305.3,1607.0 319.2,1606.4 322.0,1599.6 327.3,1588.4 323.4,1576.7" stroke="#333"/><polyline points="197.7,1676.2 192.2,1664.2 194.7,1658.3 198.3,1650.1" stroke="#333"/><polyline points="77.1,1238.6 67.9,1234.8 61.4,1239.7 53.7,1238.4 45.9,1246.7" stroke="#333"/><polyline points="444.1,1286.2 440.5,1280.1 435.4,1276.1 429.8,1277.7 422.2,1276.0" stroke="#333"/><polyline points="372.2,1533.9 382.4,1531.1 392.0,1529.6 393.9,1523.2" stroke="#2c2c2c"/><polyline points="255.6,1434.5 243.5,1436.6 237.8,1432.4" stroke="#5a5a5a"/><polyline points="467.0,1217.8 477.1,1224.5 479.7,1232.5 480.2,1241.5" stroke="#333"/><polyline points="471.8,1549.6 471.4,1543.5 477.9,1537.3 487.5,1533.1 500.4,1530.8" stroke="#303030"/><polyline points="49.3,1610.7 58.9,1610.6 66.7,1617.3 64.9,1623.8" stroke="#5a5a5a"/><polyline points="484.6,1339.8 482.7,1334.2 486.9,1322.8 479.2,1313.1" stroke="#2c2c2c"/><polyline points="433.6,1273.3 438.3,1278.9 442.0,1288.0" stroke="#5a5a5a"/><polyline points="114.6,1522.6 103.4,1522.1 98.8,1530.1 88.0,1538.5" stroke="#5a5a5a"/><polyline points="51.7,1311.9 42.6,1319.8 36.8,1318.8 34.2,1308.2" stroke="#5a5a5a"/><polyline points="481.3,1515.8 485.2,1506.8 490.4,1502.6" stroke="#2c2c2c"/><polyline points="85.0,1354.3 80.1,1341.3 72.8,1338.4 65.6,1337.5 59.2,1331.9" stroke="#2c2c2c"/><polyline points="264.5,1262.9 266.2,1271.7 274.5,1278.3" stroke="#5a5a5a"/><polyline points="260.9,1521.1 263.5,1533.2 257.3,1540.8 248.4,1547.6 246.1,1557.0" stroke="#5a5a5a"/><polyline points="551.8,1339.3 557.1,1349.7 559.1,1356.3" stroke="#303030"/><polyline points="234.8,1532.8 228.8,1525.6 224.3,1520.8 227.3,1510.9" stroke="#5a5a5a"/><polyline points="331.0,1499.4 339.5,1507.7 338.7,1517.3 332.7,1529.3 322.6,1538.7" stroke="#333"/><polyline points="71.3,1676.2 66.1,1672.2 61.5,1674.7 53.7,1671.0 46.8,1665.3" stroke="#2c2c2c"/><polyline points="232.0,1532.1 236.4,1526.2 238.5,1521.3" stroke="#333"/><polyline points="130.4,1552.8 125.1,1548.4 120.6,1544.4 110.3,1546.9" stroke="#333"/><polyline points="593.9,1370.4 607.0,1373.7 608.3,1378.8 607.1,1383.6 601.4,1385.6" stroke="#5a5a5a"/><polyline points="80.4,1391.5 77.0,1399.4 65.5,1399.1 55.7,1407.6 45.3,1411.1" stroke="#2c2c2c"/><polyline points="134.0,1334.1 139.5,1336.4 141.3,1346.5 143.3,1356.4 151.7,1366.0" stroke="#5a5a5a"/><polyline points="189.9,1253.2 197.0,1257.0 207.5,1253.7" stroke="#5a5a5a"/><polyline points="187.5,1688.7 189.1,1675.2 193.1,1669.4" stroke="#303030"/><polyline points="135.4,1279.3 130.9,1270.6 131.1,1264.6 128.5,1255.6" stroke="#2c2c2c"/><polyline points="491.6,1335.3 487.8,1344.3 490.2,1353.9 499.0,1362.3" stroke="#303030"/><polyline points="295.5,1325.5 308.4,1324.4 315.5,1326.0" stroke="#333"/><polyline points="499.3,1640.2 498.0,1629.2 497.5,1616.1" stroke="#5a5a5a"/><polyline points="370.7,1482.4 365.2,1479.0 356.2,1482.5 344.8,1483.1 334.8,1491.1" stroke="#303030"/><polyline points="289.3,1262.3 294.0,1251.1 302.9,1246.4" stroke="#303030"/><polyline points="100.3,1325.2 107.9,1332.4 111.8,1337.7 117.2,1341.8" stroke="#2c2c2c"/><polyline points="555.5,1349.7 548.3,1361.4 543.2,1362.3 536.3,1360.7" stroke="#333"/><polyline points="255.6,1669.9 264.3,1671.6 266.8,1684.8 269.8,1693.5 271.5,1699.2" stroke="#2c2c2c"/><polyline points="290.9,1503.9 286.4,1491.8 288.3,1482.8 301.4,1479.3 305.5,1465.9" stroke="#303030"/><polyline points="30.8,1704.3 29.4,1696.8 24.5,1693.3 18.3,1695.2" stroke="#303030"/><polyline points="327.0,1646.5 321.7,1658.4 326.4,1666.8 324.5,1672.6" stroke="#333"/><polyline points="457.8,1620.0 467.4,1617.6 473.2,1620.1 476.3,1629.4" stroke="#5a5a5a"/><polyline points="427.3,1649.7 435.3,1644.5 438.4,1630.9" stroke="#2c2c2c"/><polyline points="258.3,1563.2 265.4,1574.6 273.2,1582.0 284.9,1582.3 293.7,1576.1" stroke="#2c2c2c"/><polyline points="387.6,1608.9 384.8,1614.2 380.1,1616.0 377.2,1626.5 377.2,1634.3" stroke="#333"/><polyline points="124.4,1517.5 130.4,1523.6 139.4,1532.8 140.0,1540.5" stroke="#5a5a5a"/><polyline points="128.3,1393.3 125.8,1385.9 117.5,1378.4 110.5,1379.5 98.2,1383.7" stroke="#333"/><polyline points="373.9,1215.0 379.7,1224.5 386.8,1235.8 390.9,1247.2 385.1,1258.9" stroke="#333"/><polyline points="567.8,1414.3 570.9,1423.1 572.2,1431.0 573.9,1437.1 576.6,1443.1" stroke="#5a5a5a"/><polyline points="477.5,1308.2 483.1,1300.8 489.1,1300.6 493.0,1290.9 496.4,1286.8" stroke="#303030"/><polyline points="460.2,1509.7 452.1,1519.9 445.7,1531.6" stroke="#5a5a5a"/><polyline points="561.1,1427.5 564.2,1423.2 570.1,1420.4 571.8,1415.3" stroke="#5a5a5a"/><polyline points="48.6,1635.2 41.5,1643.1 46.5,1655.5" stroke="#333"/><polyline points="63.2,1257.7 64.8,1271.5 66.2,1280.2 58.6,1287.8" stroke="#5a5a5a"/><polyline points="313.1,1291.0 304.7,1283.5 295.9,1281.9 291.3,1285.3 282.7,1292.9" stroke="#333"/><polyline points="544.2,1587.6 554.3,1595.6 559.9,1597.0" stroke="#303030"/><polyline points="499.2,1466.7 494.1,1469.1 492.6,1481.7" stroke="#5a5a5a"/><polyline points="165.2,1299.7 153.0,1305.5 150.1,1317.5" stroke="#303030"/><polyline points="198.9,1373.5 189.1,1372.9 180.7,1377.5 175.0,1373.6 166.6,1370.0" stroke="#5a5a5a"/><polyline points="397.4,1517.9 400.2,1509.3 405.2,1508.8 413.0,1511.7" stroke="#333"/><polyline points="490.7,1477.0 483.8,1470.4 479.7,1460.2" stroke="#303030"/><polyline points="412.7,1570.3 417.0,1567.6 421.6,1560.2 419.7,1552.3" stroke="#303030"/><polyline points="343.3,1397.3 339.3,1403.6 333.5,1405.8 328.0,1408.2" stroke="#2c2c2c"/><polyline points="315.4,1301.1 321.9,1305.6 333.7,1303.2 342.8,1296.6" stroke="#303030"/><polyline points="189.3,1485.2 193.7,1496.0 189.5,1503.8 188.3,1517.0" stroke="#2c2c2c"/><polyline points="99.0,1679.7 104.1,1667.9 111.5,1665.4 117.0,1656.3" stroke="#2c2c2c"/><polyline points="402.9,1527.4 391.8,1526.2 382.6,1530.7 376.1,1530.2" stroke="#333"/><polyline points="200.7,1274.3 198.7,1266.0 191.3,1255.3" stroke="#5a5a5a"/><polyline points="546.9,1421.9 543.0,1425.3 531.2,1430.7" stroke="#5a5a5a"/><polyline points="105.3,1700.0 113.3,1708.5 121.6,1709.0 133.1,1705.2" stroke="#303030"/><polyline points="104.1,1317.8 110.4,1310.6 112.9,1299.3 115.7,1291.9" stroke="#5a5a5a"/><polyline points="219.1,1560.4 210.8,1555.7 205.8,1557.2" stroke="#333"/><polyline points="461.2,1669.6 466.9,1669.3 476.4,1660.1 474.0,1647.5 476.0,1641.6" stroke="#5a5a5a"/><polyline points="430.4,1312.6 440.2,1314.1 448.5,1304.8 449.2,1298.1" stroke="#5a5a5a"/><polyline points="516.2,1518.1 523.2,1509.1 526.5,1505.2 530.3,1499.3" stroke="#5a5a5a"/><polyline points="473.9,1394.6 467.7,1399.6 469.9,1412.9 465.2,1425.8" stroke="#5a5a5a"/><polyline points="528.7,1395.2 529.4,1388.5 534.9,1387.0 544.4,1397.1" stroke="#2c2c2c"/><polyline points="484.4,1510.5 497.5,1509.3 508.8,1506.1 511.7,1495.6" stroke="#303030"/><polyline points="336.0,1489.9 343.0,1490.3 348.1,1490.7 355.0,1490.0" stroke="#333"/><polyline points="113.8,1602.0 106.6,1604.1 94.9,1604.4" stroke="#303030"/><polyline points="92.5,1293.9 85.9,1301.4 87.9,1309.2 79.1,1318.1" stroke="#303030"/><polyline points="521.3,1460.0 508.0,1463.8 496.0,1457.4 489.3,1448.6 477.7,1448.7" stroke="#2c2c2c"/><polyline points="221.9,1234.4 229.2,1232.8 238.6,1233.2" stroke="#5a5a5a"/><polyline points="179.7,1434.2 179.6,1445.1 172.8,1449.7 170.8,1457.1 178.9,1466.3" stroke="#303030"/><polyline points="305.2,1265.5 311.9,1271.9 309.8,1285.0 304.7,1296.0 308.3,1307.1" stroke="#5a5a5a"/><polyline points="449.0,1434.6 449.6,1424.4 451.2,1418.4" stroke="#333"/><polyline points="229.8,1587.6 222.2,1587.3 215.1,1590.5 206.7,1590.3" stroke="#303030"/><polyline points="343.4,1351.3 347.9,1347.3 345.4,1334.3 339.9,1332.9 332.2,1328.9" stroke="#2c2c2c"/><polyline points="362.1,1330.7 367.4,1335.5 376.9,1344.3 383.7,1354.0 382.9,1359.1" stroke="#2c2c2c"/><polyline points="299.5,1616.3 292.7,1613.8 281.0,1610.2" stroke="#5a5a5a"/><polyline points="54.1,1335.5 42.4,1329.7 31.3,1323.1 20.7,1323.3" stroke="#5a5a5a"/><polyline points="17.7,1665.9 10.3,1668.4 1.0,1673.8 -8.5,1667.3 -7.8,1659.6" stroke="#2c2c2c"/><polyline points="131.0,1411.0 135.3,1424.2 131.9,1433.0" stroke="#303030"/><polyline points="184.4,1473.7 193.7,1476.4 199.1,1476.8" stroke="#333"/><polyline points="284.9,1427.8 278.9,1430.0 271.4,1431.8 262.8,1423.8 251.2,1425.3" stroke="#303030"/><polyline points="380.9,1401.8 372.3,1409.9 367.1,1418.5 359.4,1422.4" stroke="#2c2c2c"/><polyline points="425.1,1258.5 418.2,1258.9 413.5,1260.9" stroke="#333"/><polyline points="399.9,1709.3 389.6,1713.8 378.3,1709.2 365.9,1705.9" stroke="#303030"/><polyline points="577.1,1313.4 577.2,1306.9 579.5,1294.3" stroke="#2c2c2c"/><polyline points="51.5,1587.9 64.2,1588.7 69.0,1584.9 71.5,1578.8" stroke="#5a5a5a"/><polyline points="310.2,1241.8 319.8,1244.0 330.6,1246.9 336.1,1250.6 343.1,1256.4" stroke="#5a5a5a"/><polyline points="26.0,1341.1 23.5,1354.0 15.0,1359.1 5.8,1365.3 -2.5,1365.9" stroke="#5a5a5a"/><polyline points="128.6,1208.9 133.3,1211.9 141.3,1209.2" stroke="#2c2c2c"/><polyline points="332.3,1704.7 325.9,1707.2 319.7,1705.4 313.9,1694.0" stroke="#303030"/><polyline points="197.3,1214.8 202.1,1222.1 212.4,1230.2 215.9,1237.2 216.6,1243.4" stroke="#303030"/><polyline points="198.8,1333.4 202.2,1328.7 204.7,1317.9" stroke="#303030"/><polyline points="536.8,1258.1 540.5,1253.2 542.5,1241.1 550.2,1237.3 562.5,1238.7" stroke="#303030"/><polyline points="326.6,1478.4 332.4,1480.3 334.5,1489.4 332.6,1494.1 327.7,1496.3" stroke="#2c2c2c"/><polyline points="359.3,1204.3 368.8,1196.5 377.9,1197.1" stroke="#2c2c2c"/><polyline points="51.2,1584.7 50.3,1575.9 46.1,1572.8 47.1,1562.5" stroke="#2c2c2c"/><polyline points="272.4,1292.3 267.8,1297.0 262.6,1304.2 253.4,1302.6" stroke="#333"/><polyline points="24.6,1602.4 36.1,1601.2 44.1,1611.8 50.0,1616.3" stroke="#333"/><polyline points="455.6,1443.1 456.8,1450.8 452.7,1456.9 456.9,1467.1" stroke="#303030"/><polyline points="500.5,1503.2 500.4,1494.1 500.5,1484.9 494.4,1481.3 481.4,1483.6" stroke="#303030"/><polyline points="180.0,1359.6 185.6,1362.4 195.5,1362.0 198.2,1354.4" stroke="#333"/><polyline points="552.2,1558.6 548.1,1564.3 547.9,1575.2 550.7,1579.5 551.3,1585.0" stroke="#2c2c2c"/><polyline points="270.6,1547.4 266.2,1559.6 257.1,1561.7 250.4,1559.2 245.5,1564.3" stroke="#5a5a5a"/><polyline points="98.9,1273.4 92.0,1270.9 81.0,1269.0 76.5,1259.7" stroke="#2c2c2c"/><polyline points="356.6,1705.6 369.7,1700.8 370.3,1689.4 371.0,1681.8" stroke="#5a5a5a"/><polyline points="219.2,1370.4 231.1,1371.4 237.2,1364.9 243.5,1361.4 254.4,1361.7" stroke="#333"/><polyline points="143.0,1229.9 135.1,1222.9 126.2,1224.9 118.5,1221.3" stroke="#2c2c2c"/><polyline points="115.6,1335.5 119.3,1331.1 133.3,1331.9 146.8,1329.5" stroke="#2c2c2c"/><polyline points="538.0,1222.2 541.2,1230.0 547.1,1235.3" stroke="#303030"/><polyline points="93.9,1305.3 84.2,1301.8 76.2,1303.6 69.1,1303.1 59.5,1294.0" stroke="#303030"/><polyline points="559.1,1497.5 554.8,1500.4 549.4,1506.8" stroke="#2c2c2c"/><polyline points="583.9,1666.7 579.2,1677.2 581.1,1687.3 577.6,1697.1 574.4,1703.6" stroke="#333"/><polyline points="55.6,1315.0 53.8,1320.2 45.6,1320.6 37.3,1310.5 30.6,1310.0" stroke="#303030"/><polyline points="129.0,1621.0 126.7,1614.9 123.5,1604.6 126.0,1593.7 130.4,1589.9" stroke="#303030"/><polyline points="230.0,1476.3 233.3,1464.8 239.6,1458.6" stroke="#5a5a5a"/><polyline points="403.7,1450.7 401.5,1460.8 394.9,1462.2" stroke="#333"/><polyline points="422.7,1353.6 414.6,1355.2 405.7,1360.3" stroke="#303030"/><polyline points="147.8,1518.5 139.1,1518.0 127.8,1522.6 122.8,1530.9 114.5,1530.2" stroke="#5a5a5a"/><polyline points="502.7,1385.6 509.1,1382.6 517.5,1378.6 526.7,1373.1 528.8,1365.9" stroke="#303030"/><polyline points="430.5,1494.6 420.1,1496.6 415.4,1500.1 405.5,1503.3" stroke="#303030"/><polyline points="41.2,1514.8 35.6,1508.8 29.2,1505.1" stroke="#5a5a5a"/><polyline points="310.8,1352.6 318.0,1355.7 323.9,1368.0 326.6,1379.2" stroke="#303030"/><polyline points="584.6,1262.3 581.7,1254.9 582.4,1248.4 575.5,1244.6" stroke="#2c2c2c"/><polyline points="123.9,1508.7 127.7,1500.1 125.9,1492.8 125.2,1485.1 128.0,1478.5" stroke="#303030"/></g>
 <!-- shoulder -->
 <polygon fill="#d2d2d2" points="435.4,1402 482.5,1443 449,1459 437.4,1441.6 418.5,1390"/>
 <polygon fill="#e6e2d8" points="402,1340 406,1340 436,1400 433,1402"/>
 <!-- crater -->
 <g clip-path="url(#conec)"><ellipse cx="299" cy="1222" rx="46" ry="21" fill="#d0d0d0"/>
 <ellipse cx="300" cy="1216" rx="36" ry="17" fill="#4d4d4d"/></g>
 <!-- cutaway -->
 <g id="cut">
  <polygon fill="#dadada" stroke="#dadada" stroke-width="24" stroke-linejoin="miter" points="270,1262 327,1262 327,1307 355,1390 358,1454 361,1502 422,1597 427,1646 451,1680 452,1710 300,1793 160,1719 235,1579 238,1540 242,1482 243,1427 258,1382 270,1340"/>
  <polygon fill="#7a3510" stroke="#7a3510" stroke-width="8" stroke-linejoin="miter" points="270,1262 327,1262 327,1307 355,1390 358,1454 361,1502 422,1597 427,1646 451,1680 452,1710 300,1793 160,1719 235,1579 238,1540 242,1482 243,1427 258,1382 270,1340"/>
  <polygon fill="#403838" points="270,1262 327,1262 327,1307 355,1390 358,1454 361,1502 422,1597 427,1646 451,1680 452,1710 300,1793 160,1719 235,1579 238,1540 242,1482 243,1427 258,1382 270,1340"/>
 </g>
 <!-- magma -->
 <clipPath id="cutP"><polygon points="270,1262 327,1262 327,1307 355,1390 358,1454 361,1502 422,1597 427,1646 451,1680 452,1710 300,1793 160,1719 235,1579 238,1540 242,1482 243,1427 258,1382 270,1340"/></clipPath>
 <g clip-path="url(#cutP)">
  <path d="M302,1258 C301.7,1262.5 300.7,1276.7 300,1285 C299.3,1293.3 297.7,1299.3 298,1308 C298.3,1316.7 302.2,1324.0 302,1337 C301.8,1350.0 297.7,1371.5 297,1386 C296.3,1400.5 296.5,1412.7 298,1424 C299.5,1435.3 305.2,1444.2 306,1454 C306.8,1463.8 304.5,1473.3 303,1483 C301.5,1492.7 298.2,1502.3 297,1512 C295.8,1521.7 296.3,1531.3 296,1541 C295.7,1550.7 295.2,1565.2 295,1570" fill="none" stroke="#b0a040" stroke-width="34" opacity=".35" filter="url(#blur6)"/>
  <polygon fill="#ff8a2a" opacity=".6" filter="url(#blur6)" points="284,1540 266,1592 251,1620 225,1656 184,1726 300,1785 432,1727 380,1616 318,1554 308,1540"/>
  <path d="M302,1258 C301.7,1262.5 300.7,1276.7 300,1285 C299.3,1293.3 297.7,1299.3 298,1308 C298.3,1316.7 302.2,1324.0 302,1337 C301.8,1350.0 297.7,1371.5 297,1386 C296.3,1400.5 296.5,1412.7 298,1424 C299.5,1435.3 305.2,1444.2 306,1454 C306.8,1463.8 304.5,1473.3 303,1483 C301.5,1492.7 298.2,1502.3 297,1512 C295.8,1521.7 296.3,1531.3 296,1541 C295.7,1550.7 295.2,1565.2 295,1570" fill="none" stroke="#fa3a0c" stroke-width="22"/>
  <path d="M290,1368 C284,1358 276,1352 264,1348" fill="none" stroke="#fb3c0c" stroke-width="9"/>
  <path d="M312,1476 C322,1466 338,1459 359,1458" fill="none" stroke="#fb3c0c" stroke-width="9.5"/>
  <path d="M302,1258 C301.7,1262.5 300.7,1276.7 300,1285 C299.3,1293.3 297.7,1299.3 298,1308 C298.3,1316.7 302.2,1324.0 302,1337 C301.8,1350.0 297.7,1371.5 297,1386 C296.3,1400.5 296.5,1412.7 298,1424 C299.5,1435.3 305.2,1444.2 306,1454 C306.8,1463.8 304.5,1473.3 303,1483 C301.5,1492.7 298.2,1502.3 297,1512 C295.8,1521.7 296.3,1531.3 296,1541 C295.7,1550.7 295.2,1565.2 295,1570" fill="none" stroke="#ff6a1e" stroke-width="11" opacity=".75" filter="url(#blur2)"/>
  <polygon fill="#fa2e0a" points="285,1545 281,1562 268,1593 252,1622 226,1658 186,1726 300,1783 430,1726 379,1617 317,1562 307,1545"/>
  <path d="M262,1640 C290,1620 320,1640 350,1660 C370,1672 380,1690 390,1700" fill="none" stroke="#ff6a20" stroke-width="8" opacity=".6" filter="url(#blur2)"/>
  <path d="M230,1700 C260,1690 300,1700 330,1690" fill="none" stroke="#ff6a20" stroke-width="8" opacity=".5" filter="url(#blur2)"/>
  <ellipse cx="302" cy="1270" rx="7" ry="4.5" fill="#ffd21c"/>
  <g fill="#ffd21c"><circle cx="298.5" cy="1324.6" r="2.6"/><circle cx="293.6" cy="1408.7" r="2.6"/><circle cx="302.5" cy="1457.5" r="2.4"/><circle cx="299.5" cy="1504" r="2.6"/><circle cx="289.7" cy="1536.6" r="2.6"/><circle cx="296" cy="1559" r="2.6"/><circle cx="294" cy="1596" r="2.6"/><circle cx="265.4" cy="1625" r="2.8"/><circle cx="257.6" cy="1635.6" r="2"/></g>
  <g fill="#dc1018"><circle cx="289.8" cy="1308" r="2.8"/><circle cx="305" cy="1305" r="2.6"/><circle cx="297" cy="1340.7" r="2.8"/><circle cx="310.5" cy="1344" r="2.8"/><circle cx="304.8" cy="1372" r="2.2"/><circle cx="294.8" cy="1386.7" r="2.8"/><circle cx="300.5" cy="1430" r="2.8"/><circle cx="307" cy="1462.7" r="2.6"/><circle cx="301.5" cy="1490" r="2.4"/><circle cx="308" cy="1506.7" r="2.4"/><circle cx="287.5" cy="1520.6" r="2.6"/><circle cx="297" cy="1543" r="2.6"/><circle cx="329" cy="1462" r="2.6"/><circle cx="268" cy="1354" r="2"/><circle cx="318" cy="1575" r="2.6"/><circle cx="332" cy="1560" r="2.5"/><circle cx="350" cy="1600" r="2.5"/><circle cx="356" cy="1620" r="2.5"/><circle cx="270" cy="1640" r="3"/><circle cx="365" cy="1640" r="2.5"/><circle cx="380" cy="1660" r="2.5"/><circle cx="372" cy="1690" r="2.5"/><circle cx="290" cy="1740" r="2"/></g>
  <circle cx="316" cy="1600" r="1.5" fill="#fff"/>
 </g>
 <!-- BASE BLOCK -->
 <clipPath id="lf"><rect x="0" y="0" width="282" height="168"/></clipPath>
 <clipPath id="rf"><rect x="0" y="0" width="292" height="168"/></clipPath>
 <g transform="translate(18,1652) skewY(29.57)" clip-path="url(#lf)">
  <rect x="0" y="0" width="282" height="168" fill="#f5300a"/>
  <path transform="translate(0,7)" d="M0,98 C40,94 80,106 120,102 C160,98 200,110 240,106 C260,104 275,108 282,108 L282,126 C240,124 200,130 160,120 C120,114 80,126 40,118 C20,116 8,118 0,118Z" fill="#ff8a28" filter="url(#blur6)" opacity=".8"/>
  <path transform="translate(0,7)" d="M0,104 C40,100 80,110 120,106 C160,102 200,114 240,110 C260,108 275,112 282,112 L282,118 C240,118 200,122 160,114 C120,108 80,118 40,112 C20,110 8,112 0,112Z" fill="#ffc050" filter="url(#blur2)" opacity=".75"/>
  <path d="M0,0 H282 V80 C250,82 220,76 190,82 C150,88 110,78 70,86 C40,90 20,84 0,86Z" fill="#a6a6a6"/>
  <path d="M0,14 C40,10 70,26 110,20 C150,14 190,30 230,24 C250,22 270,28 282,26 L282,36 C250,40 220,32 190,38 C150,44 110,30 70,38 C40,42 20,30 0,30Z" fill="#c6c6c6"/>
  <path d="M0,44 C40,40 80,56 120,50 C160,44 200,60 240,54 C260,52 275,56 282,56 L282,64 C250,66 220,60 190,64 C150,70 110,58 70,64 C40,68 20,58 0,60Z" fill="#c0c0c0"/>
  <g fill="#d6d6d6"><circle cx="20" cy="22" r="3"/><circle cx="40" cy="48" r="3.5"/><circle cx="60" cy="10" r="2.5"/><circle cx="85" cy="35" r="3"/><circle cx="110" cy="60" r="3.5"/><circle cx="130" cy="24" r="3"/><circle cx="160" cy="46" r="4"/><circle cx="185" cy="14" r="2.5"/><circle cx="200" cy="66" r="3"/><circle cx="230" cy="40" r="3.5"/><circle cx="255" cy="70" r="3"/><circle cx="270" cy="20" r="3"/><circle cx="150" cy="72" r="2.5"/><circle cx="60" cy="70" r="3"/></g>
  <g fill="#cdcdcd"><circle cx="70" cy="43" r="2.6"/><circle cx="255" cy="38" r="3.5"/><circle cx="23" cy="5" r="3"/><circle cx="76" cy="21" r="4"/><circle cx="133" cy="64" r="3"/><circle cx="113" cy="66" r="2.2"/><circle cx="178" cy="66" r="3.5"/><circle cx="111" cy="5" r="1.8"/><circle cx="49" cy="73" r="1.8"/><circle cx="87" cy="6" r="2.6"/><circle cx="134" cy="56" r="3"/><circle cx="200" cy="70" r="3"/><circle cx="204" cy="46" r="2.2"/><circle cx="245" cy="11" r="2.2"/><circle cx="140" cy="23" r="4"/><circle cx="124" cy="49" r="2.6"/><circle cx="120" cy="64" r="3.5"/><circle cx="101" cy="46" r="3.5"/><circle cx="68" cy="28" r="1.8"/><circle cx="239" cy="75" r="4"/><circle cx="195" cy="54" r="2.6"/><circle cx="268" cy="69" r="3.5"/><circle cx="33" cy="51" r="4"/><circle cx="232" cy="45" r="2.6"/><circle cx="39" cy="39" r="4"/><circle cx="275" cy="10" r="1.8"/><circle cx="117" cy="15" r="2.6"/><circle cx="122" cy="34" r="1.8"/></g>
  <g fill="#909090"><circle cx="30" cy="62" r="2.5"/><circle cx="95" cy="14" r="2"/><circle cx="175" cy="34" r="2.5"/><circle cx="240" cy="18" r="2"/><circle cx="265" cy="48" r="2.5"/></g>
  <g fill="#d8101a"><circle cx="25" cy="102" r="2.5"/><circle cx="75" cy="96" r="2.5"/><circle cx="100" cy="130" r="3"/><circle cx="140" cy="120" r="3"/><circle cx="150" cy="95" r="2.5"/><circle cx="215" cy="120" r="2.5"/><circle cx="250" cy="135" r="2.5"/></g>
 </g>
 <g transform="translate(300,1812) skewY(-29.02)" clip-path="url(#rf)">
  <rect x="0" y="0" width="292" height="168" fill="#c2380e"/>
  <path d="M0,100 C40,96 80,108 120,102 C160,96 200,106 240,100 C260,98 280,102 292,100 L292,116 C250,118 210,112 170,118 C130,124 90,114 50,120 C30,122 10,118 0,120Z" fill="#e8901e" filter="url(#blur6)" opacity=".85"/>
  <path d="M0,106 C40,102 80,112 120,106 C160,100 200,110 240,104 C260,102 280,106 292,104 L292,110 C250,112 210,106 170,112 C130,118 90,108 50,114 C30,116 10,112 0,114Z" fill="#f0b040" filter="url(#blur2)" opacity=".6"/>
  <rect x="0" y="0" width="292" height="86" fill="#8e8e8e"/>
  <path d="M0,46 C40,44 80,52 120,48 C160,44 200,52 240,48 L292,48 L292,54 C250,56 200,56 160,52 C120,50 80,56 40,52 L0,52Z" fill="#b2b2b2"/>
  <path d="M0,9 C40,5 80,16 120,10 C160,5 200,16 240,10 C260,8 280,12 292,10 L292,15 C250,18 210,12 170,16 C130,21 90,13 50,18 C30,20 10,15 0,16Z" fill="#1c1c1c"/>
  <path d="M0,34 C40,28 80,40 120,35 C160,30 200,42 240,37 C260,35 280,38 292,37 L292,42 C250,46 210,40 170,44 C130,48 90,40 50,45 C30,47 10,41 0,42Z" fill="#1c1c1c"/>
  <path d="M0,58 C40,54 80,66 120,60 C160,55 200,67 240,62 C260,60 280,64 292,62 L292,68 C250,71 210,65 170,69 C130,74 90,66 50,71 C30,73 10,68 0,69Z" fill="#1c1c1c"/>
  <path d="M0,79 C40,77 80,82 120,78 C160,75 200,82 240,78 L292,78 L292,86 L0,86Z" fill="#222"/>
  <path d="M0,22 C40,18 80,28 120,24 C160,20 200,30 240,26 L292,26 L292,29 C250,31 200,33 160,29 C120,27 80,33 40,29 L0,27Z" fill="#b8b8b8"/>
  <g fill="#d0d0d0"><circle cx="18" cy="52" r="2.5"/><circle cx="60" cy="24" r="2.5"/><circle cx="120" cy="50" r="3"/><circle cx="200" cy="22" r="2.5"/><circle cx="250" cy="50" r="3"/><circle cx="270" cy="24" r="2.5"/><circle cx="90" cy="68" r="2.5"/></g>
  <g fill="#e0141c"><circle cx="40" cy="98" r="2.5"/><circle cx="90" cy="92" r="3"/><circle cx="130" cy="100" r="2.5"/><circle cx="170" cy="90" r="3"/><circle cx="210" cy="98" r="2.5"/><circle cx="255" cy="88" r="3.5"/><circle cx="275" cy="96" r="2.5"/></g>
 </g>
 <!-- drip -->
 <path d="M234,1778 C236,1800 236,1830 235,1848 C234,1858 230,1866 224,1872 L254,1872 C248,1865 245,1857 245,1847 C245,1828 246,1800 248,1780 Z" fill="#f6400e"/>
 <path d="M236,1786 L260,1760 L270,1764 L246,1790 Z" fill="#f6400e"/>
 <!-- top edge highlights -->
 <polyline points="18,1652 300,1812 592,1650" fill="none" stroke="#eee" stroke-width="1.5"/>
 <!-- arrows -->
 <g fill="#fff">
  <path d="M61,1730 L80,1724 L77,1732 L140,1767 L143,1760 L156,1783 L132,1784 L136,1777 L73,1742 L70,1749Z"/>
  <path d="M418,1791 L426,1772 L429,1779 L498,1746 L495,1739 L515,1741 L504,1759 L502,1752 L433,1786 L436,1792Z"/>
 </g>
</g>

<!-- VOLCANO LABELS -->
<text x="19" y="1255.5" class="b h2" stroke="#2a2a2a" font-size="26" fill="#2a2a2a" textLength="121.5" lengthAdjust="spacingAndGlyphs">Do que é</text>
<text x="19" y="1283.5" class="b h2" stroke="#2a2a2a" font-size="26" fill="#2a2a2a" textLength="121.5" lengthAdjust="spacingAndGlyphs">formado</text>
<text x="19" y="1311.5" class="b h2" stroke="#2a2a2a" font-size="26" fill="#2a2a2a" textLength="142.5" lengthAdjust="spacingAndGlyphs">um vulcão</text>
<g font-size="16" fill="#333">
 <text x="19" y="1372" textLength="64.5" lengthAdjust="spacingAndGlyphs">Conduto</text>
 <text x="19" y="1428" textLength="60" lengthAdjust="spacingAndGlyphs">Câmara</text>
 <text x="19" y="1448.5" textLength="86" lengthAdjust="spacingAndGlyphs">magmática</text>
 <text x="19" y="1511" textLength="41" lengthAdjust="spacingAndGlyphs">Placa</text>
 <text x="19" y="1531" textLength="69" lengthAdjust="spacingAndGlyphs">tectônica</text>
</g>
<g fill="none" stroke="#fff" stroke-width="4" stroke-linejoin="round">
 <polyline points="19,1380.5 268,1380.5"/>
 <polyline points="138,1460 252,1625"/>
 <polyline points="87,1543 222,1783"/>
</g>
<g fill="none" stroke="#b3141a" stroke-width="1.6">
 <polyline points="19,1380.5 268,1380.5"/>
 <polyline points="19,1460 138,1460 252,1625"/>
 <polyline points="19,1543 87,1543 222,1783"/>
</g>
<g fill="#b3141a" stroke="#fff" stroke-width="1.8">
 <circle cx="268" cy="1380.5" r="5.5"/>
 <circle cx="252.4" cy="1625.3" r="5.5"/>
 <circle cx="222" cy="1783" r="5.5"/>
</g>
<!-- right annotation -->
<line x1="320" y1="1201" x2="596" y2="1201" stroke="#7a7a7a" stroke-width="1.8" stroke-dasharray="4.5,3.2"/>
<g stroke="#8a8a8a" stroke-width="2">
 <line x1="601.5" y1="1201" x2="601.5" y2="1389.5"/>
 <line x1="595" y1="1201" x2="608" y2="1201"/>
 <line x1="601.5" y1="1421.5" x2="601.5" y2="1645"/>
 <line x1="594" y1="1645" x2="608" y2="1645"/>
</g>
<g font-size="16" fill="#7c7c7c">
 <text x="444.7" y="1224.4" textLength="141" lengthAdjust="spacingAndGlyphs">A principal cratera</text>
 <text x="444.7" y="1247.3" textLength="129.3" lengthAdjust="spacingAndGlyphs">responsável pela</text>
 <text x="444.7" y="1269.6" textLength="106.8" lengthAdjust="spacingAndGlyphs">atual erupção</text>
 <text x="444.7" y="1291.6" textLength="115" lengthAdjust="spacingAndGlyphs">está a cerca de</text>
 <text x="444.7" y="1314.5" class="b" fill="#5c5c5c" textLength="113" lengthAdjust="spacingAndGlyphs">950 metros do</text>
 <text x="444.7" y="1337.4" class="b" fill="#5c5c5c" textLength="97.7" lengthAdjust="spacingAndGlyphs">nível do mar</text>
 <text x="573.4" y="1411.5" fill="#888" font-size="15.5" textLength="44.6" lengthAdjust="spacingAndGlyphs">1,9 km</text>
</g>

<!-- ERUPTIONS TEXT -->
<text x="19" y="2001.6" class="b h2" stroke="#2a2a2a" font-size="26" fill="#2a2a2a" textLength="240.5" lengthAdjust="spacingAndGlyphs">Como ocorrem as</text>
<text x="19" y="2030" class="b h2" stroke="#2a2a2a" font-size="26" fill="#2a2a2a" textLength="284.4" lengthAdjust="spacingAndGlyphs">erupções vulcânicas</text>
<g font-size="18">
 <text x="18.5" y="2070.2" fill="#6a6a6a" textLength="298.5" lengthAdjust="spacingAndGlyphs">Os magmas sobem até a superfície</text>
 <text x="321.7" y="2070.2" class="b" fill="#333" textLength="167.5" lengthAdjust="spacingAndGlyphs">porque são menos</text>
 <text x="18.5" y="2092.3" class="b" fill="#333" textLength="301" lengthAdjust="spacingAndGlyphs">densos do que as rochas ao redor</text>
 <text x="326.4" y="2092.3" fill="#6a6a6a" textLength="83.3" lengthAdjust="spacingAndGlyphs">ou, ainda,</text>
 <text x="413.2" y="2092.3" class="b" fill="#333" textLength="77.6" lengthAdjust="spacingAndGlyphs">devido a</text>
 <text x="18.5" y="2114.4" class="b" fill="#333" textLength="443.5" lengthAdjust="spacingAndGlyphs">uma redução da pressão por aberturas na crosta,</text>
 <text x="18.5" y="2137" class="b" fill="#333" textLength="284" lengthAdjust="spacingAndGlyphs">o que leva o material até o topo</text>
 <text x="18.5" y="2183.5" fill="#6a6a6a" textLength="508.3" lengthAdjust="spacingAndGlyphs">Existem três maneiras pelas quais os vulcões são formados:</text>
</g>
<g font-size="22" fill="#3d3d3d">
 <text x="19.6" y="2243.3" textLength="110" lengthAdjust="spacingAndGlyphs">Fronteiras</text>
 <text x="19.6" y="2268.3" textLength="148.5" lengthAdjust="spacingAndGlyphs">convergentes</text>
 <text x="225.6" y="2243.3" textLength="111" lengthAdjust="spacingAndGlyphs">Fronteiras</text>
 <text x="225.6" y="2268.3" textLength="131.3" lengthAdjust="spacingAndGlyphs">divergentes</text>
 <text x="435.5" y="2243.3" textLength="75" lengthAdjust="spacingAndGlyphs">Pontos</text>
 <text x="435.5" y="2268.3" textLength="88.5" lengthAdjust="spacingAndGlyphs">quentes</text>
</g>
<g font-size="16.5" fill="#555">
 <text x="17.8" y="2397.7" textLength="107.2" lengthAdjust="spacingAndGlyphs">Quando duas</text>
 <text x="17.8" y="2418.3" textLength="138.2" lengthAdjust="spacingAndGlyphs">placas tectônicas</text>
 <text x="17.8" y="2439.3" textLength="84.7" lengthAdjust="spacingAndGlyphs">se colidem</text>
 <text x="225" y="2397.7" textLength="107.8" lengthAdjust="spacingAndGlyphs">Quando duas</text>
 <text x="225" y="2418.3" textLength="137.6" lengthAdjust="spacingAndGlyphs">placas tectônicas</text>
 <text x="225" y="2439.3" textLength="89.5" lengthAdjust="spacingAndGlyphs">se separam</text>
 <text x="435.3" y="2397.7" textLength="128.3" lengthAdjust="spacingAndGlyphs">Quando magma</text>
 <text x="435.3" y="2418.3" textLength="180.7" lengthAdjust="spacingAndGlyphs">anomalamente quente</text>
 <text x="435.3" y="2439.3" textLength="158.7" lengthAdjust="spacingAndGlyphs">sobe e derrete tudo</text>
 <text x="435.3" y="2460" textLength="106.7" lengthAdjust="spacingAndGlyphs">pelo caminho</text>
</g>
<!-- diagrams -->
<g fill="none" stroke="#c8c8c8" stroke-width="1.2">
 <path d="M16.9,2315.7 H70.4 L99,2344 M16.9,2315.7 V2362.5 H76 L86,2372"/>
 <path d="M82,2321 L105,2301.4 L110,2306 M82,2321 L100,2343"/>
 <path d="M131,2309.7 H173.4 V2358.3 H120"/>
 <path d="M223.7,2309 H383.7 V2358.5 H223.7 Z"/>
 <path d="M277.5,2309 L300.8,2332.3 M282,2309 L302.2,2331"/>
 <rect x="433.6" y="2309.5" width="160.4" height="48.9"/>
</g>
<g fill="none" stroke="#b00c12" stroke-width="1.5">
 <polygon points="114.4,2288.2 135,2288.2 147.3,2309.7 108.3,2309.7"/>
 <polygon points="295,2287.3 311.5,2287.3 323.2,2309 283.3,2309"/>
 <polygon points="505,2287.5 521.4,2287.5 533,2310 494.4,2310"/>
</g>
<g stroke="#b00c12" stroke-width="3.2">
 <line x1="128.6" y1="2288" x2="128.6" y2="2340"/>
 <line x1="304" y1="2288" x2="304" y2="2337"/>
 <line x1="514" y1="2288" x2="514" y2="2337"/>
</g>
<g fill="#b00c12">
 <path d="M127,2333 C131,2337 132,2344 129,2352 C125,2362 112,2368 98,2368 C90,2368 88,2362 92,2356 C98,2347 110,2339 127,2333Z"/>
 <path d="M303.7,2332 C312,2334 322,2338 330,2344 C340,2350 344,2358 340,2364 C336,2367 322,2367 312,2362 C308,2360 305,2358 303.7,2357 C302,2358 299,2360 295,2362 C285,2367 271,2367 267,2364 C263,2358 267,2350 277,2344 C285,2338 295,2334 303.7,2332Z"/>
 <path d="M476.8,2358.4 C490,2354 496,2333 514,2333 C532,2333 538,2354 551,2358.4Z"/>
</g>
<g stroke="#b00c12" stroke-width="1.2" fill="none">
 <path d="M74.5,2329.4 L92.4,2347.3 M92.4,2347.3 L86,2346 M92.4,2347.3 L91.5,2341"/>
 <path d="M106,2337.7 L88.3,2319.8 M88.3,2319.8 L89,2326 M88.3,2319.8 L94.5,2320.5"/>
 <path d="M278,2319 H232 M232,2319 L237,2315.5 M232,2319 L237,2322.5"/>
 <path d="M329,2319 H374.5 M374.5,2319 L369.5,2315.5 M374.5,2319 L369.5,2322.5"/>
</g>

<!-- FOOTER -->
<path d="M0,2500 H619 V2540 A15.6,15.6 0 0 1 603.4,2555.6 H15.6 A15.6,15.6 0 0 1 0,2540 Z" fill="#c4170c"/>
<path d="M0,2482 H619 V2531 A14,14 0 0 1 605,2545 H14 A14,14 0 0 1 0,2531 Z" fill="#ececec"/>
<text x="17" y="2520.5" class="b" font-size="28" fill="#c4170c" stroke="#c4170c" stroke-width="1.1" textLength="27" lengthAdjust="spacingAndGlyphs">g1</text>
<text x="61.8" y="2511.8" class="b" font-size="14" fill="#7a7a7a" textLength="167.5" lengthAdjust="spacingAndGlyphs">Infográfico elaborado</text>
<text x="61.8" y="2527.8" class="b" font-size="14" fill="#7a7a7a" textLength="25.2" lengthAdjust="spacingAndGlyphs">em:</text>
<text x="91.4" y="2527.8" font-size="14" fill="#9a9a9a" textLength="78.6" lengthAdjust="spacingAndGlyphs">29/09/2021</text>

<!-- red vertical line -->
<line x1="436.5" y1="701" x2="436.5" y2="1402" stroke="#b3141a" stroke-width="2"/>

</svg>
</body></html>
